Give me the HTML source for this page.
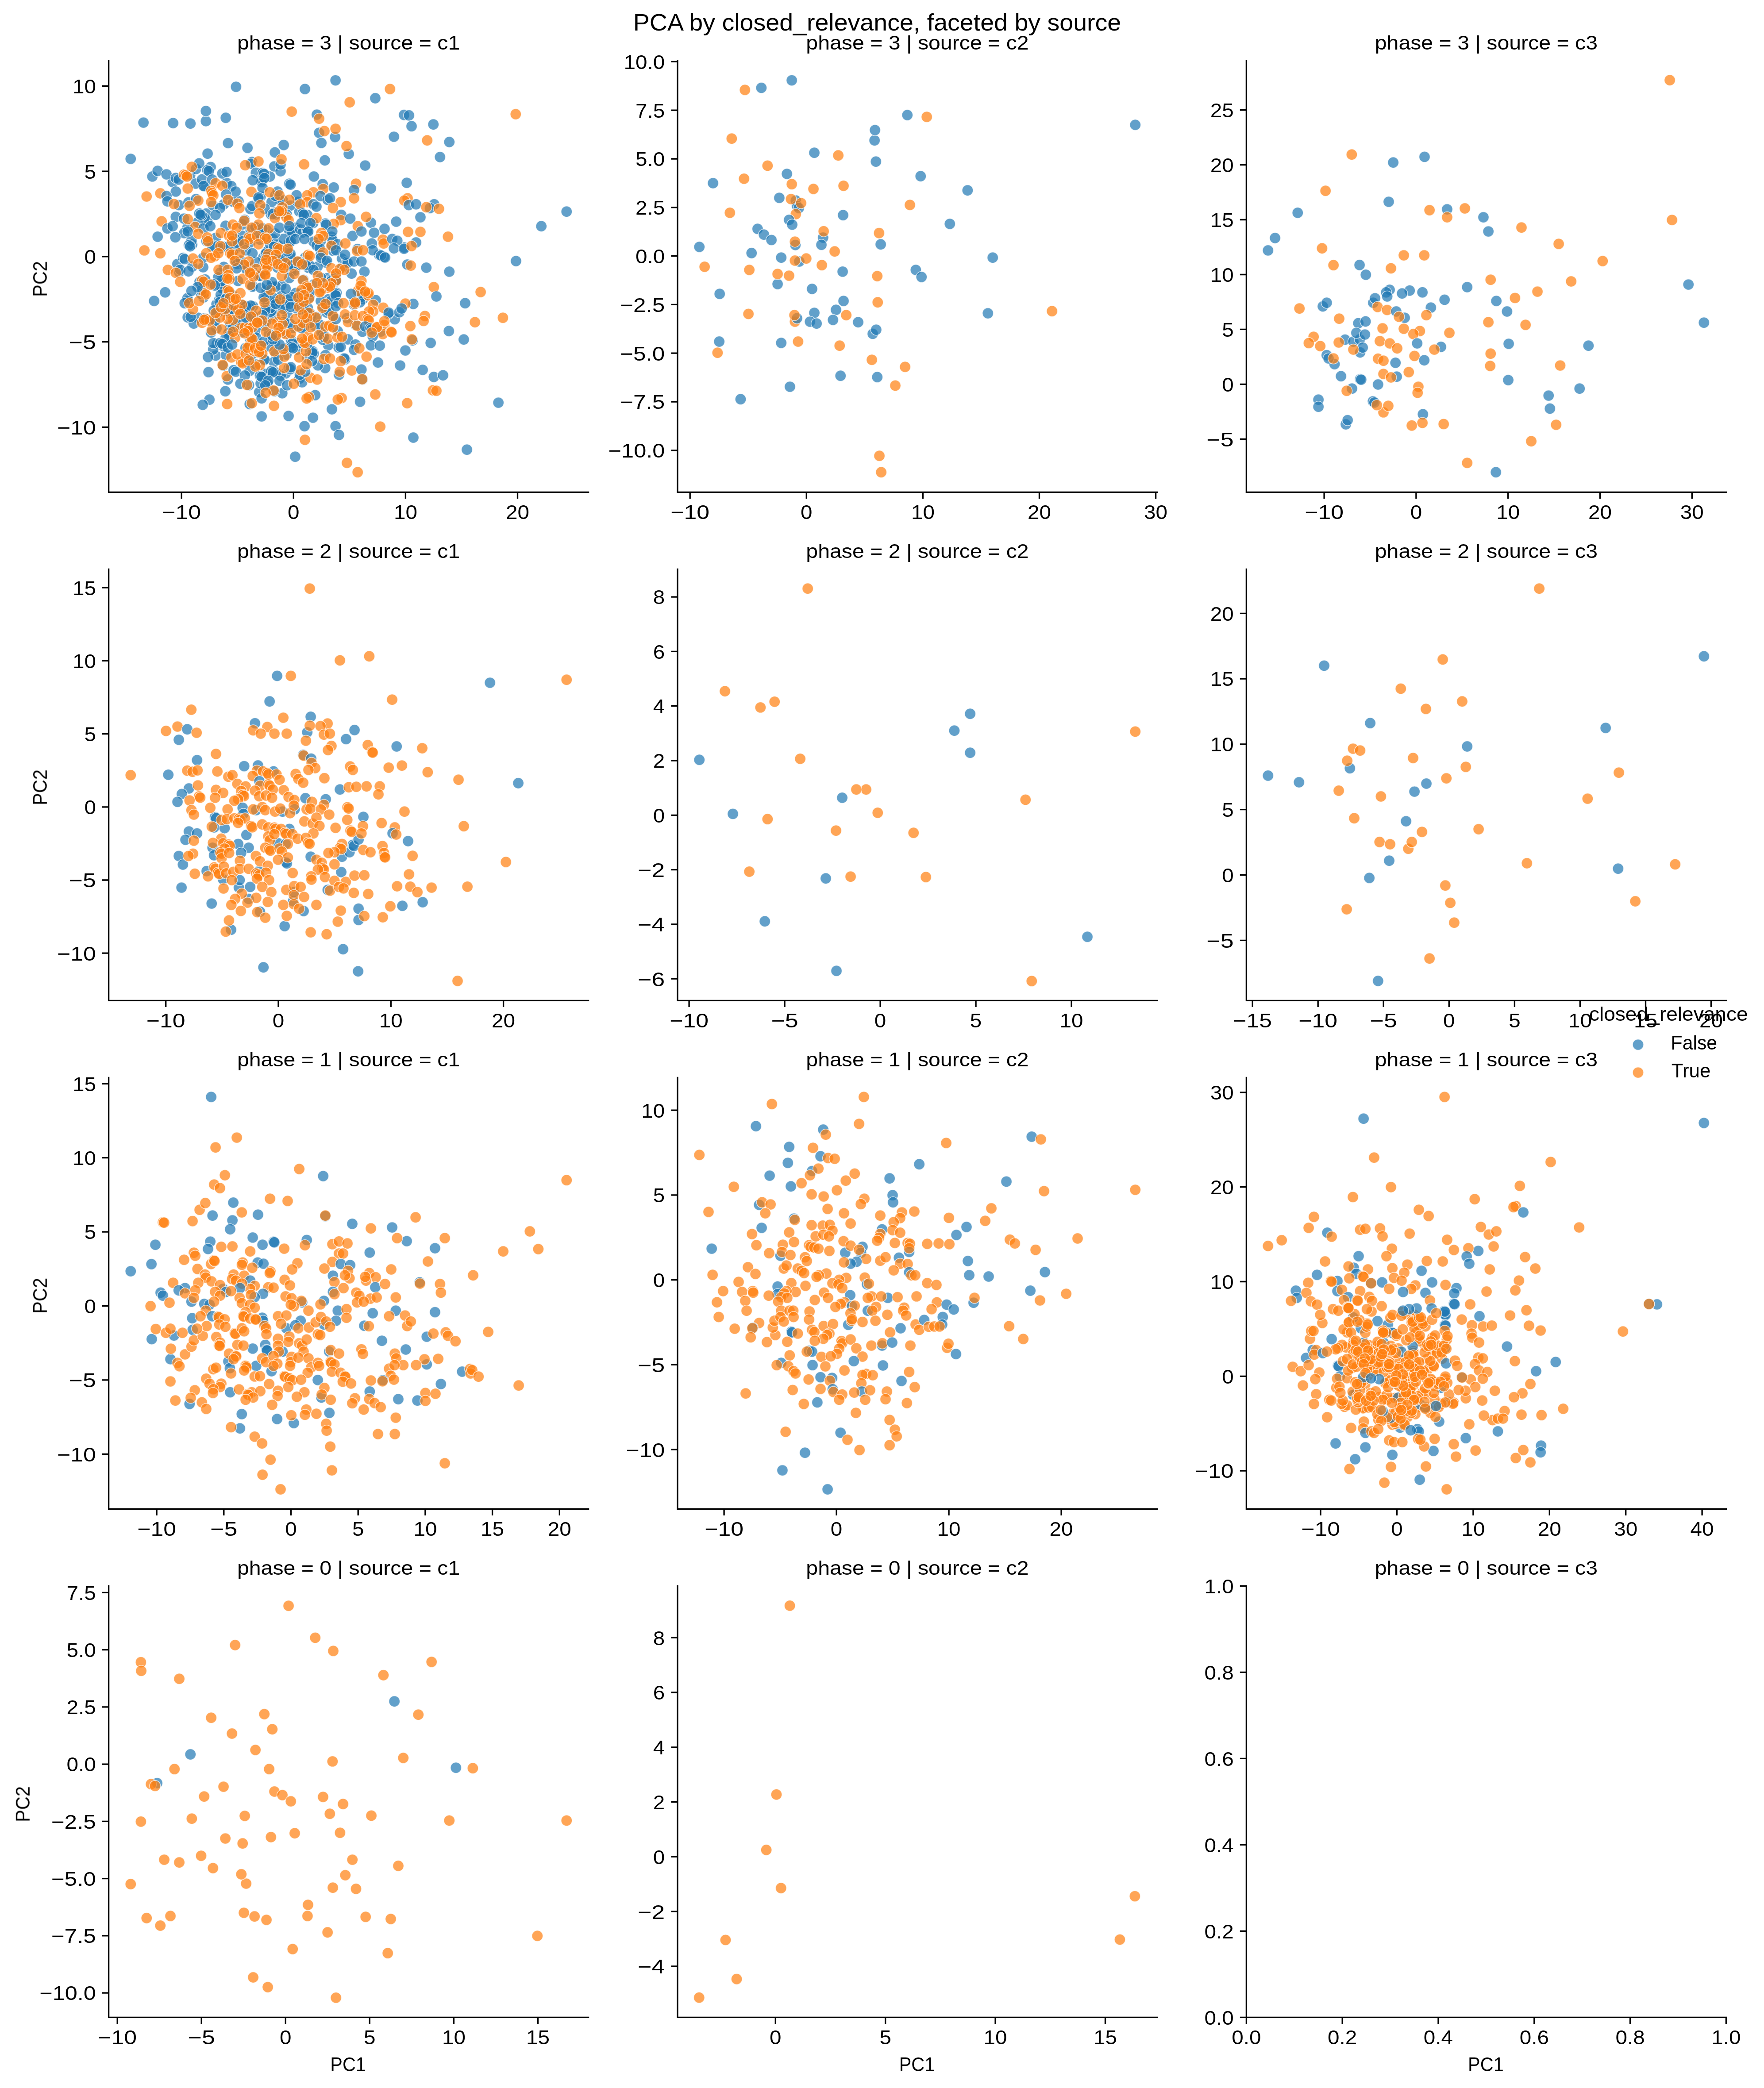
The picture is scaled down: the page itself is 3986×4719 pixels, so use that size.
<!DOCTYPE html>
<html><head><meta charset="utf-8"><title>PCA by closed_relevance, faceted by source</title>
<style>
html,body{margin:0;padding:0;background:#fff}
svg{display:block}
g.tx{filter:grayscale(1)}
text{font-family:"Liberation Sans",sans-serif;fill:#000}
.sp{fill:none;stroke:#000;stroke-width:3.33;stroke-linecap:square;stroke-linejoin:miter}
.tk{fill:none;stroke:#000;stroke-width:3.33}
</style></head><body>
<svg width="3986" height="4719" viewBox="0 0 3986 4719">
<defs>
<circle id="b" r="12.5" fill="#1f77b4" fill-opacity="0.7" stroke="#fff" stroke-opacity="0.7" stroke-width="1.6"/>
<circle id="o" r="12.5" fill="#ff7f0e" fill-opacity="0.7" stroke="#fff" stroke-opacity="0.7" stroke-width="1.6"/>
</defs>
<rect width="3986" height="4719" fill="#fff"/>
<g><use href="#b" x="468.5" y="500.7"/><use href="#b" x="742.1" y="676.4"/><use href="#b" x="772.8" y="584.5"/><use href="#b" x="657.8" y="612.8"/><use href="#b" x="521.4" y="668.9"/><use href="#b" x="459.1" y="603.9"/><use href="#b" x="693.6" y="657.5"/><use href="#b" x="617.0" y="573.7"/><use href="#b" x="629.1" y="582.0"/><use href="#b" x="563.8" y="604.5"/><use href="#b" x="631.1" y="737.6"/><use href="#b" x="434.8" y="602.3"/><use href="#b" x="689.4" y="582.2"/><use href="#b" x="563.5" y="710.0"/><use href="#b" x="558.3" y="817.6"/><use href="#b" x="555.8" y="745.3"/><use href="#b" x="667.3" y="514.7"/><use href="#b" x="554.8" y="786.4"/><use href="#b" x="598.4" y="607.3"/><use href="#b" x="635.5" y="645.6"/><use href="#b" x="609.7" y="399.0"/><use href="#b" x="819.9" y="675.9"/><use href="#b" x="504.8" y="777.3"/><use href="#b" x="676.4" y="856.1"/><use href="#b" x="868.9" y="517.3"/><use href="#b" x="547.2" y="750.9"/><use href="#b" x="405.0" y="615.3"/><use href="#b" x="765.1" y="785.6"/><use href="#b" x="892.1" y="721.6"/><use href="#b" x="702.1" y="714.3"/><use href="#b" x="404.1" y="463.5"/><use href="#b" x="579.4" y="724.2"/><use href="#b" x="670.1" y="684.8"/><use href="#b" x="630.0" y="684.8"/><use href="#b" x="757.7" y="636.6"/><use href="#b" x="536.7" y="703.3"/><use href="#b" x="423.5" y="514.6"/><use href="#b" x="489.2" y="687.4"/><use href="#b" x="860.9" y="749.2"/><use href="#b" x="747.0" y="681.0"/><use href="#b" x="643.5" y="591.6"/><use href="#b" x="465.7" y="482.7"/><use href="#b" x="710.4" y="736.2"/><use href="#b" x="573.4" y="787.2"/><use href="#b" x="740.4" y="628.5"/><use href="#b" x="511.3" y="664.2"/><use href="#b" x="554.4" y="691.6"/><use href="#b" x="773.2" y="604.4"/><use href="#b" x="500.9" y="650.5"/><use href="#b" x="691.1" y="705.1"/><use href="#b" x="638.8" y="452.2"/><use href="#b" x="505.8" y="461.7"/><use href="#b" x="487.5" y="803.6"/><use href="#b" x="583.3" y="797.1"/><use href="#b" x="632.8" y="452.3"/><use href="#b" x="760.6" y="661.9"/><use href="#b" x="609.2" y="844.0"/><use href="#b" x="481.1" y="464.2"/><use href="#b" x="510.5" y="802.6"/><use href="#b" x="592.8" y="406.7"/><use href="#b" x="735.4" y="505.2"/><use href="#b" x="463.6" y="631.8"/><use href="#b" x="736.2" y="593.2"/><use href="#b" x="600.9" y="570.8"/><use href="#b" x="640.0" y="481.7"/><use href="#b" x="546.5" y="532.8"/><use href="#b" x="462.3" y="492.6"/><use href="#b" x="679.8" y="663.3"/><use href="#b" x="447.9" y="718.2"/><use href="#b" x="645.3" y="844.1"/><use href="#b" x="586.1" y="622.1"/><use href="#b" x="525.4" y="666.5"/><use href="#b" x="670.6" y="673.2"/><use href="#b" x="578.8" y="725.0"/><use href="#b" x="621.3" y="682.8"/><use href="#b" x="495.4" y="677.5"/><use href="#b" x="487.7" y="537.8"/><use href="#b" x="732.4" y="650.6"/><use href="#b" x="588.0" y="781.4"/><use href="#b" x="779.8" y="812.3"/><use href="#b" x="569.5" y="612.0"/><use href="#b" x="662.2" y="526.9"/><use href="#b" x="676.3" y="478.0"/><use href="#b" x="564.7" y="702.6"/><use href="#b" x="482.7" y="555.1"/><use href="#b" x="913.5" y="559.4"/><use href="#b" x="523.4" y="573.7"/><use href="#b" x="614.1" y="646.5"/><use href="#b" x="730.7" y="755.3"/><use href="#b" x="560.5" y="602.6"/><use href="#b" x="519.3" y="747.2"/><use href="#b" x="624.8" y="756.7"/><use href="#b" x="725.5" y="628.1"/><use href="#b" x="867.8" y="580.4"/><use href="#b" x="533.3" y="592.9"/><use href="#b" x="749.5" y="631.8"/><use href="#b" x="519.3" y="707.7"/><use href="#b" x="748.9" y="635.1"/><use href="#b" x="579.0" y="794.1"/><use href="#b" x="516.3" y="687.7"/><use href="#b" x="757.5" y="663.3"/><use href="#b" x="627.9" y="554.3"/><use href="#b" x="602.3" y="724.9"/><use href="#b" x="709.7" y="642.4"/><use href="#b" x="504.0" y="557.4"/><use href="#b" x="509.8" y="510.3"/><use href="#b" x="607.5" y="584.9"/><use href="#b" x="616.6" y="540.3"/><use href="#b" x="503.8" y="625.4"/><use href="#b" x="567.2" y="802.9"/><use href="#b" x="499.3" y="677.3"/><use href="#b" x="699.1" y="672.5"/><use href="#b" x="724.9" y="544.3"/><use href="#b" x="817.4" y="670.6"/><use href="#b" x="468.8" y="724.7"/><use href="#b" x="565.9" y="472.4"/><use href="#b" x="520.0" y="735.5"/><use href="#b" x="657.4" y="581.0"/><use href="#b" x="818.9" y="749.7"/><use href="#b" x="566.4" y="519.9"/><use href="#b" x="562.7" y="870.6"/><use href="#b" x="666.4" y="611.6"/><use href="#b" x="459.9" y="672.2"/><use href="#b" x="502.5" y="651.7"/><use href="#b" x="700.8" y="791.9"/><use href="#b" x="627.1" y="604.7"/><use href="#b" x="637.8" y="888.7"/><use href="#b" x="655.9" y="464.7"/><use href="#b" x="799.7" y="683.3"/><use href="#b" x="598.5" y="610.8"/><use href="#b" x="656.2" y="573.4"/><use href="#b" x="429.7" y="395.7"/><use href="#b" x="594.9" y="582.0"/><use href="#b" x="707.1" y="794.3"/><use href="#b" x="549.0" y="689.7"/><use href="#b" x="584.3" y="623.0"/><use href="#b" x="701.1" y="729.8"/><use href="#b" x="434.1" y="552.5"/><use href="#b" x="656.6" y="601.7"/><use href="#b" x="515.2" y="697.0"/><use href="#b" x="497.5" y="561.2"/><use href="#b" x="717.6" y="602.6"/><use href="#b" x="784.2" y="719.0"/><use href="#b" x="708.7" y="799.3"/><use href="#b" x="597.4" y="814.1"/><use href="#b" x="604.7" y="866.6"/><use href="#b" x="621.3" y="774.6"/><use href="#b" x="603.7" y="568.6"/><use href="#b" x="570.0" y="465.4"/><use href="#b" x="763.2" y="748.5"/><use href="#b" x="536.4" y="596.6"/><use href="#b" x="708.3" y="546.1"/><use href="#b" x="514.9" y="857.8"/><use href="#b" x="799.5" y="688.4"/><use href="#b" x="674.7" y="674.6"/><use href="#b" x="783.3" y="591.7"/><use href="#b" x="620.0" y="713.7"/><use href="#b" x="638.3" y="585.6"/><use href="#b" x="530.5" y="564.1"/><use href="#b" x="620.2" y="766.5"/><use href="#b" x="526.1" y="571.1"/><use href="#b" x="561.0" y="696.3"/><use href="#b" x="694.6" y="486.0"/><use href="#b" x="653.0" y="519.5"/><use href="#b" x="696.3" y="523.9"/><use href="#b" x="479.2" y="556.7"/><use href="#b" x="602.6" y="519.8"/><use href="#b" x="635.6" y="669.3"/><use href="#b" x="620.0" y="685.2"/><use href="#b" x="715.5" y="554.6"/><use href="#b" x="517.2" y="556.2"/><use href="#b" x="649.8" y="713.2"/><use href="#b" x="526.4" y="740.9"/><use href="#b" x="660.4" y="599.0"/><use href="#b" x="607.5" y="754.8"/><use href="#b" x="662.1" y="740.8"/><use href="#b" x="622.8" y="798.5"/><use href="#b" x="877.3" y="709.2"/><use href="#b" x="741.6" y="780.4"/><use href="#b" x="564.1" y="838.3"/><use href="#b" x="600.7" y="573.0"/><use href="#b" x="615.9" y="702.1"/><use href="#b" x="541.8" y="734.7"/><use href="#b" x="514.1" y="671.2"/><use href="#b" x="588.9" y="444.4"/><use href="#b" x="656.1" y="732.5"/><use href="#b" x="476.1" y="377.4"/><use href="#b" x="532.5" y="540.5"/><use href="#b" x="623.3" y="647.8"/><use href="#b" x="803.5" y="734.3"/><use href="#b" x="499.4" y="635.7"/><use href="#b" x="648.3" y="677.8"/><use href="#b" x="722.2" y="560.3"/><use href="#b" x="605.8" y="782.9"/><use href="#b" x="671.4" y="790.0"/><use href="#b" x="489.2" y="742.1"/><use href="#b" x="699.9" y="707.0"/><use href="#b" x="726.7" y="752.0"/><use href="#b" x="752.7" y="566.7"/><use href="#b" x="758.6" y="667.7"/><use href="#b" x="454.3" y="664.3"/><use href="#b" x="489.9" y="777.4"/><use href="#b" x="569.6" y="366.1"/><use href="#b" x="563.6" y="782.7"/><use href="#b" x="649.5" y="567.9"/><use href="#b" x="687.5" y="724.7"/><use href="#b" x="786.0" y="767.0"/><use href="#b" x="653.9" y="547.9"/><use href="#b" x="644.0" y="689.2"/><use href="#b" x="611.6" y="704.5"/><use href="#b" x="468.1" y="723.9"/><use href="#b" x="611.2" y="696.3"/><use href="#b" x="598.5" y="611.2"/><use href="#b" x="640.5" y="751.5"/><use href="#b" x="571.7" y="692.2"/><use href="#b" x="518.5" y="704.0"/><use href="#b" x="612.2" y="484.3"/><use href="#b" x="748.9" y="534.9"/><use href="#b" x="619.6" y="480.3"/><use href="#b" x="442.9" y="381.9"/><use href="#b" x="584.3" y="449.9"/><use href="#b" x="585.7" y="886.2"/><use href="#b" x="563.1" y="696.3"/><use href="#b" x="676.9" y="681.9"/><use href="#b" x="595.8" y="844.5"/><use href="#b" x="600.4" y="695.9"/><use href="#b" x="623.3" y="484.7"/><use href="#b" x="687.2" y="739.1"/><use href="#b" x="543.7" y="589.0"/><use href="#b" x="507.3" y="703.3"/><use href="#b" x="600.8" y="668.0"/><use href="#b" x="416.1" y="526.8"/><use href="#b" x="602.2" y="592.4"/><use href="#b" x="537.8" y="634.9"/><use href="#b" x="577.1" y="513.2"/><use href="#b" x="807.8" y="562.9"/><use href="#b" x="687.2" y="726.8"/><use href="#b" x="724.8" y="576.4"/><use href="#b" x="491.4" y="706.4"/><use href="#b" x="563.8" y="615.5"/><use href="#b" x="659.2" y="525.3"/><use href="#b" x="764.1" y="685.0"/><use href="#b" x="544.7" y="706.6"/><use href="#b" x="596.4" y="735.9"/><use href="#b" x="505.8" y="603.3"/><use href="#b" x="610.6" y="553.3"/><use href="#b" x="555.9" y="728.8"/><use href="#b" x="707.7" y="504.0"/><use href="#b" x="555.8" y="692.1"/><use href="#b" x="678.4" y="518.6"/><use href="#b" x="681.1" y="668.6"/><use href="#b" x="674.8" y="599.1"/><use href="#b" x="640.9" y="539.9"/><use href="#b" x="512.1" y="413.4"/><use href="#b" x="455.9" y="487.0"/><use href="#b" x="450.9" y="637.3"/><use href="#b" x="657.5" y="768.4"/><use href="#b" x="598.5" y="677.8"/><use href="#b" x="565.2" y="768.1"/><use href="#b" x="425.0" y="680.3"/><use href="#b" x="400.8" y="596.8"/><use href="#b" x="505.2" y="782.4"/><use href="#b" x="547.5" y="507.3"/><use href="#b" x="599.7" y="701.1"/><use href="#b" x="432.7" y="543.8"/><use href="#b" x="587.3" y="541.5"/><use href="#b" x="696.8" y="605.2"/><use href="#b" x="600.2" y="600.9"/><use href="#b" x="613.8" y="456.5"/><use href="#b" x="856.6" y="575.8"/><use href="#b" x="522.6" y="420.6"/><use href="#b" x="598.2" y="471.8"/><use href="#b" x="647.1" y="801.5"/><use href="#b" x="680.5" y="591.6"/><use href="#b" x="758.5" y="624.2"/><use href="#b" x="602.8" y="656.2"/><use href="#b" x="552.0" y="701.8"/><use href="#b" x="462.9" y="421.4"/><use href="#b" x="749.8" y="554.1"/><use href="#b" x="566.4" y="690.8"/><use href="#b" x="552.8" y="497.0"/><use href="#b" x="584.8" y="527.2"/><use href="#b" x="672.9" y="591.3"/><use href="#b" x="577.6" y="746.4"/><use href="#b" x="425.8" y="457.4"/><use href="#b" x="694.2" y="809.8"/><use href="#b" x="618.9" y="557.8"/><use href="#b" x="753.2" y="714.5"/><use href="#b" x="729.1" y="416.3"/><use href="#b" x="592.9" y="516.3"/><use href="#b" x="478.7" y="722.0"/><use href="#b" x="694.1" y="587.8"/><use href="#b" x="578.6" y="824.0"/><use href="#b" x="685.6" y="632.5"/><use href="#b" x="668.4" y="662.3"/><use href="#b" x="459.2" y="582.3"/><use href="#b" x="641.5" y="727.3"/><use href="#b" x="466.6" y="545.1"/><use href="#b" x="538.9" y="454.6"/><use href="#b" x="738.0" y="706.3"/><use href="#b" x="442.1" y="415.0"/><use href="#b" x="634.3" y="849.1"/><use href="#b" x="683.7" y="525.4"/><use href="#b" x="673.4" y="700.5"/><use href="#b" x="639.3" y="697.8"/><use href="#b" x="705.9" y="796.7"/><use href="#b" x="769.8" y="784.1"/><use href="#b" x="590.9" y="411.6"/><use href="#b" x="672.8" y="456.2"/><use href="#b" x="390.3" y="411.7"/><use href="#b" x="654.5" y="686.6"/><use href="#b" x="685.0" y="684.8"/><use href="#b" x="516.3" y="752.2"/><use href="#b" x="526.3" y="455.8"/><use href="#b" x="715.4" y="716.4"/><use href="#b" x="497.9" y="616.0"/><use href="#b" x="729.6" y="768.0"/><use href="#b" x="481.7" y="790.0"/><use href="#b" x="621.8" y="442.6"/><use href="#b" x="593.0" y="712.1"/><use href="#b" x="498.8" y="666.0"/><use href="#b" x="536.6" y="722.7"/><use href="#b" x="648.1" y="484.9"/><use href="#b" x="579.0" y="763.0"/><use href="#b" x="693.9" y="521.6"/><use href="#b" x="729.2" y="692.3"/><use href="#b" x="623.6" y="842.0"/><use href="#b" x="695.5" y="696.0"/><use href="#b" x="722.6" y="734.0"/><use href="#b" x="759.1" y="634.4"/><use href="#b" x="614.5" y="637.8"/><use href="#b" x="621.3" y="527.6"/><use href="#b" x="700.7" y="660.2"/><use href="#b" x="496.1" y="683.1"/><use href="#b" x="570.6" y="645.5"/><use href="#b" x="483.1" y="701.8"/><use href="#b" x="693.5" y="703.7"/><use href="#b" x="785.6" y="594.4"/><use href="#b" x="570.4" y="647.9"/><use href="#b" x="462.3" y="719.6"/><use href="#b" x="751.2" y="542.3"/><use href="#b" x="588.6" y="623.5"/><use href="#b" x="813.3" y="683.2"/><use href="#b" x="619.9" y="376.1"/><use href="#b" x="734.8" y="831.8"/><use href="#b" x="693.8" y="646.7"/><use href="#b" x="526.0" y="699.0"/><use href="#b" x="513.2" y="670.1"/><use href="#b" x="579.2" y="592.3"/><use href="#b" x="674.5" y="775.7"/><use href="#b" x="617.6" y="673.7"/><use href="#b" x="557.2" y="609.0"/><use href="#b" x="660.6" y="776.2"/><use href="#b" x="589.0" y="866.5"/><use href="#b" x="693.8" y="778.3"/><use href="#b" x="794.4" y="618.3"/><use href="#b" x="537.8" y="551.1"/><use href="#b" x="517.2" y="758.8"/><use href="#b" x="618.9" y="818.3"/><use href="#b" x="597.6" y="812.7"/><use href="#b" x="602.5" y="580.9"/><use href="#b" x="423.6" y="674.0"/><use href="#b" x="815.8" y="661.4"/><use href="#b" x="485.9" y="725.2"/><use href="#b" x="446.4" y="502.4"/><use href="#b" x="742.7" y="702.8"/><use href="#b" x="725.0" y="680.6"/><use href="#b" x="595.9" y="672.3"/><use href="#b" x="571.2" y="785.8"/><use href="#b" x="456.4" y="405.5"/><use href="#b" x="508.7" y="766.2"/><use href="#b" x="586.8" y="724.4"/><use href="#b" x="653.8" y="628.3"/><use href="#b" x="424.2" y="717.2"/><use href="#b" x="492.9" y="626.8"/><use href="#b" x="700.0" y="599.9"/><use href="#b" x="682.2" y="742.2"/><use href="#b" x="455.1" y="656.0"/><use href="#b" x="644.9" y="787.9"/><use href="#b" x="657.9" y="670.5"/><use href="#b" x="758.2" y="181.6"/><use href="#b" x="533.4" y="196.2"/><use href="#b" x="689.1" y="201.3"/><use href="#o" x="790.2" y="231.2"/><use href="#o" x="659.2" y="252.3"/><use href="#b" x="465.3" y="273.7"/><use href="#b" x="465.3" y="251.0"/><use href="#b" x="510.2" y="266.3"/><use href="#b" x="324.2" y="277.1"/><use href="#b" x="391.2" y="278.2"/><use href="#b" x="430.3" y="279.2"/><use href="#b" x="716.0" y="259.1"/><use href="#o" x="721.1" y="268.3"/><use href="#b" x="757.2" y="309.8"/><use href="#o" x="758.2" y="291.1"/><use href="#b" x="721.1" y="300.3"/><use href="#o" x="733.0" y="296.2"/><use href="#b" x="726.2" y="323.1"/><use href="#b" x="515.3" y="323.4"/><use href="#b" x="559.2" y="334.3"/><use href="#b" x="641.2" y="327.8"/><use href="#b" x="621.1" y="344.5"/><use href="#b" x="788.1" y="347.9"/><use href="#o" x="783.0" y="330.2"/><use href="#b" x="469.1" y="347.2"/><use href="#b" x="295.3" y="359.1"/><use href="#b" x="734.0" y="362.5"/><use href="#b" x="634.0" y="387.0"/><use href="#b" x="634.0" y="371.7"/><use href="#o" x="636.1" y="360.1"/><use href="#b" x="567.0" y="370.0"/><use href="#o" x="584.0" y="364.9"/><use href="#o" x="554.1" y="373.4"/><use href="#o" x="687.1" y="371.4"/><use href="#b" x="450.0" y="369.3"/><use href="#o" x="433.4" y="377.1"/><use href="#b" x="344.3" y="398.9"/><use href="#b" x="356.2" y="386.3"/><use href="#b" x="376.2" y="394.1"/><use href="#b" x="468.4" y="384.6"/><use href="#b" x="471.8" y="386.7"/><use href="#b" x="502.4" y="392.1"/><use href="#b" x="511.9" y="388.7"/><use href="#b" x="578.3" y="390.4"/><use href="#b" x="593.2" y="391.1"/><use href="#b" x="596.6" y="393.1"/><use href="#b" x="597.3" y="402.3"/><use href="#b" x="709.2" y="398.9"/><use href="#b" x="397.3" y="402.3"/><use href="#b" x="403.8" y="405.7"/><use href="#o" x="415.7" y="394.8"/><use href="#o" x="419.1" y="396.2"/><use href="#o" x="422.5" y="398.9"/><use href="#b" x="571.1" y="407.4"/><use href="#b" x="479.3" y="405.7"/><use href="#o" x="487.1" y="414.2"/><use href="#o" x="502.4" y="420.0"/><use href="#b" x="653.8" y="415.2"/><use href="#b" x="656.5" y="417.3"/><use href="#o" x="804.5" y="415.2"/><use href="#b" x="459.9" y="420.3"/><use href="#o" x="424.2" y="426.1"/><use href="#b" x="754.1" y="423.7"/><use href="#o" x="730.3" y="427.1"/><use href="#b" x="593.2" y="424.4"/><use href="#o" x="708.2" y="434.6"/><use href="#b" x="532.3" y="432.9"/><use href="#o" x="477.2" y="431.2"/><use href="#o" x="479.3" y="436.3"/><use href="#o" x="482.0" y="441.4"/><use href="#o" x="568.1" y="433.6"/><use href="#b" x="627.2" y="432.9"/><use href="#o" x="609.6" y="434.6"/><use href="#o" x="631.3" y="441.4"/><use href="#b" x="397.3" y="432.9"/><use href="#o" x="362.3" y="437.0"/><use href="#b" x="376.2" y="443.1"/><use href="#o" x="331.3" y="444.1"/><use href="#o" x="694.3" y="441.4"/><use href="#o" x="694.3" y="456.7"/><use href="#b" x="800.0" y="429.5"/><use href="#o" x="800.0" y="448.2"/><use href="#b" x="670.1" y="441.4"/><use href="#o" x="653.8" y="451.6"/><use href="#b" x="510.9" y="439.7"/><use href="#o" x="515.3" y="451.6"/><use href="#b" x="442.9" y="449.9"/><use href="#o" x="448.0" y="453.3"/><use href="#b" x="584.0" y="446.5"/><use href="#b" x="724.2" y="443.1"/><use href="#b" x="740.2" y="451.6"/><use href="#b" x="745.6" y="448.2"/><use href="#o" x="770.1" y="456.7"/><use href="#o" x="477.2" y="456.7"/><use href="#b" x="378.3" y="455.0"/><use href="#o" x="393.2" y="461.2"/><use href="#o" x="428.3" y="465.2"/><use href="#o" x="588.1" y="463.5"/><use href="#o" x="536.4" y="460.1"/><use href="#o" x="540.9" y="470.3"/><use href="#o" x="638.1" y="468.6"/><use href="#o" x="678.3" y="461.8"/><use href="#b" x="708.2" y="461.8"/><use href="#b" x="715.0" y="466.9"/><use href="#o" x="752.4" y="470.3"/><use href="#b" x="497.3" y="470.3"/><use href="#b" x="487.1" y="485.6"/><use href="#b" x="616.4" y="483.9"/><use href="#o" x="586.1" y="482.2"/><use href="#b" x="450.4" y="482.6"/><use href="#b" x="453.1" y="485.3"/><use href="#b" x="397.3" y="490.1"/><use href="#b" x="415.7" y="494.1"/><use href="#o" x="424.2" y="495.2"/><use href="#o" x="621.1" y="493.1"/><use href="#b" x="683.7" y="482.6"/><use href="#b" x="686.4" y="485.3"/><use href="#o" x="715.0" y="493.1"/><use href="#b" x="771.1" y="485.6"/><use href="#o" x="770.1" y="497.6"/><use href="#b" x="791.5" y="494.1"/><use href="#o" x="647.0" y="490.7"/><use href="#o" x="652.1" y="497.6"/><use href="#o" x="365.3" y="500.3"/><use href="#o" x="551.7" y="499.3"/><use href="#o" x="526.2" y="507.8"/><use href="#o" x="534.7" y="514.6"/><use href="#o" x="584.0" y="507.8"/><use href="#o" x="568.7" y="514.6"/><use href="#o" x="607.2" y="516.3"/><use href="#o" x="754.1" y="506.1"/><use href="#b" x="631.3" y="514.6"/><use href="#b" x="653.8" y="511.2"/><use href="#b" x="681.0" y="504.4"/><use href="#b" x="701.4" y="504.4"/><use href="#b" x="737.1" y="507.8"/><use href="#b" x="378.3" y="516.3"/><use href="#b" x="390.2" y="511.2"/><use href="#o" x="441.2" y="512.9"/><use href="#b" x="459.9" y="516.3"/><use href="#b" x="475.2" y="511.2"/><use href="#b" x="424.2" y="523.1"/><use href="#b" x="696.3" y="523.1"/><use href="#b" x="750.7" y="523.1"/><use href="#o" x="726.2" y="526.5"/><use href="#o" x="730.3" y="533.3"/><use href="#o" x="720.1" y="540.1"/><use href="#o" x="448.0" y="528.2"/><use href="#o" x="468.4" y="536.7"/><use href="#o" x="470.1" y="545.2"/><use href="#o" x="499.0" y="526.5"/><use href="#o" x="517.7" y="533.3"/><use href="#o" x="524.5" y="545.2"/><use href="#b" x="356.2" y="535.0"/><use href="#b" x="396.3" y="536.3"/><use href="#b" x="548.3" y="545.2"/><use href="#b" x="565.3" y="548.6"/><use href="#o" x="561.9" y="537.0"/><use href="#o" x="565.3" y="539.7"/><use href="#o" x="580.6" y="533.3"/><use href="#o" x="598.7" y="537.0"/><use href="#o" x="602.1" y="539.7"/><use href="#b" x="657.2" y="545.2"/><use href="#b" x="667.4" y="540.1"/><use href="#b" x="687.8" y="540.1"/><use href="#b" x="796.6" y="533.3"/><use href="#o" x="808.5" y="511.2"/><use href="#b" x="426.9" y="554.0"/><use href="#b" x="429.6" y="556.7"/><use href="#b" x="762.6" y="552.0"/><use href="#o" x="749.0" y="555.4"/><use href="#o" x="780.3" y="550.3"/><use href="#o" x="806.8" y="567.3"/><use href="#o" x="627.6" y="560.8"/><use href="#o" x="631.0" y="563.5"/><use href="#o" x="650.4" y="562.2"/><use href="#o" x="584.0" y="552.0"/><use href="#o" x="326.2" y="565.9"/><use href="#o" x="362.3" y="572.4"/><use href="#b" x="555.1" y="565.6"/><use href="#b" x="570.4" y="572.4"/><use href="#o" x="466.0" y="572.4"/><use href="#o" x="485.4" y="579.2"/><use href="#o" x="476.9" y="582.6"/><use href="#o" x="520.4" y="572.7"/><use href="#o" x="523.8" y="575.4"/><use href="#o" x="541.5" y="572.4"/><use href="#o" x="606.2" y="574.1"/><use href="#o" x="623.2" y="575.8"/><use href="#o" x="696.3" y="576.1"/><use href="#o" x="699.7" y="578.8"/><use href="#o" x="730.3" y="570.7"/><use href="#b" x="414.0" y="582.9"/><use href="#b" x="417.4" y="585.6"/><use href="#o" x="436.1" y="584.3"/><use href="#o" x="448.0" y="596.2"/><use href="#b" x="759.2" y="565.6"/><use href="#b" x="779.6" y="575.8"/><use href="#b" x="800.0" y="591.1"/><use href="#b" x="725.2" y="582.6"/><use href="#b" x="738.8" y="589.4"/><use href="#b" x="691.2" y="599.6"/><use href="#b" x="708.2" y="609.8"/><use href="#o" x="561.9" y="591.1"/><use href="#o" x="551.7" y="597.9"/><use href="#o" x="672.5" y="591.1"/><use href="#o" x="645.3" y="594.5"/><use href="#o" x="635.1" y="603.0"/><use href="#o" x="599.4" y="594.5"/><use href="#o" x="601.1" y="601.6"/><use href="#o" x="604.5" y="604.4"/><use href="#o" x="578.9" y="608.1"/><use href="#b" x="534.7" y="606.4"/><use href="#o" x="493.9" y="609.8"/><use href="#o" x="514.3" y="609.8"/><use href="#o" x="749.0" y="606.4"/><use href="#o" x="767.7" y="608.1"/><use href="#o" x="777.9" y="609.8"/><use href="#b" x="407.2" y="609.8"/><use href="#b" x="425.9" y="613.2"/><use href="#o" x="379.3" y="610.1"/><use href="#o" x="397.3" y="616.6"/><use href="#o" x="665.0" y="619.0"/><use href="#o" x="636.8" y="623.4"/><use href="#o" x="599.4" y="623.4"/><use href="#o" x="516.0" y="621.7"/><use href="#o" x="548.3" y="630.2"/><use href="#o" x="718.4" y="623.4"/><use href="#o" x="407.2" y="637.0"/><use href="#o" x="456.5" y="633.9"/><use href="#o" x="459.9" y="636.7"/><use href="#o" x="565.3" y="643.8"/><use href="#o" x="759.2" y="633.6"/><use href="#o" x="749.0" y="640.4"/><use href="#o" x="740.5" y="650.6"/><use href="#o" x="725.2" y="657.4"/><use href="#o" x="684.4" y="633.6"/><use href="#o" x="692.9" y="647.6"/><use href="#o" x="696.3" y="650.3"/><use href="#o" x="681.0" y="655.7"/><use href="#o" x="611.3" y="655.7"/><use href="#o" x="514.3" y="656.1"/><use href="#o" x="517.7" y="658.8"/><use href="#o" x="543.2" y="662.5"/><use href="#o" x="461.6" y="662.9"/><use href="#o" x="465.0" y="665.6"/><use href="#o" x="808.5" y="657.4"/><use href="#b" x="373.2" y="660.8"/><use href="#b" x="446.3" y="648.9"/><use href="#b" x="482.0" y="642.4"/><use href="#b" x="485.4" y="645.2"/><use href="#b" x="645.3" y="652.3"/><use href="#b" x="589.1" y="650.6"/><use href="#b" x="602.8" y="643.8"/><use href="#b" x="793.2" y="664.2"/><use href="#b" x="432.7" y="657.4"/><use href="#o" x="881.3" y="201.3"/><use href="#b" x="848.0" y="222.0"/><use href="#b" x="913.0" y="259.8"/><use href="#b" x="924.2" y="260.8"/><use href="#o" x="1165.3" y="258.1"/><use href="#b" x="930.0" y="285.3"/><use href="#b" x="979.3" y="281.2"/><use href="#b" x="890.2" y="309.1"/><use href="#o" x="965.3" y="317.3"/><use href="#b" x="1015.3" y="321.0"/><use href="#b" x="994.3" y="355.0"/><use href="#b" x="825.2" y="374.1"/><use href="#b" x="919.1" y="413.2"/><use href="#b" x="838.1" y="426.1"/><use href="#o" x="921.1" y="448.2"/><use href="#o" x="913.6" y="453.3"/><use href="#b" x="923.8" y="463.5"/><use href="#b" x="940.2" y="461.8"/><use href="#b" x="981.0" y="461.8"/><use href="#b" x="971.5" y="470.3"/><use href="#o" x="963.3" y="468.3"/><use href="#o" x="991.9" y="472.0"/><use href="#b" x="838.1" y="503.3"/><use href="#o" x="827.2" y="490.1"/><use href="#b" x="950.0" y="491.1"/><use href="#b" x="895.3" y="501.0"/><use href="#b" x="1280.3" y="478.2"/><use href="#b" x="1223.2" y="511.2"/><use href="#b" x="816.7" y="523.1"/><use href="#b" x="845.3" y="526.1"/><use href="#o" x="922.1" y="524.1"/><use href="#o" x="950.0" y="524.1"/><use href="#o" x="1012.3" y="535.0"/><use href="#o" x="865.0" y="541.8"/><use href="#o" x="867.0" y="550.3"/><use href="#b" x="886.4" y="540.1"/><use href="#b" x="897.7" y="544.1"/><use href="#b" x="840.2" y="550.3"/><use href="#b" x="842.2" y="565.6"/><use href="#b" x="940.2" y="547.9"/><use href="#b" x="890.2" y="561.2"/><use href="#b" x="913.0" y="562.2"/><use href="#o" x="930.0" y="556.1"/><use href="#o" x="820.1" y="565.6"/><use href="#b" x="860.9" y="577.5"/><use href="#b" x="870.1" y="581.9"/><use href="#b" x="816.7" y="591.1"/><use href="#b" x="823.5" y="613.9"/><use href="#b" x="920.4" y="597.9"/><use href="#o" x="928.3" y="600.3"/><use href="#b" x="963.3" y="605.0"/><use href="#b" x="1015.3" y="613.9"/><use href="#b" x="1166.0" y="590.1"/><use href="#o" x="816.7" y="635.3"/><use href="#o" x="815.0" y="645.5"/><use href="#o" x="980.3" y="648.9"/><use href="#o" x="1086.1" y="660.1"/><use href="#b" x="986.1" y="670.0"/><use href="#o" x="832.0" y="667.6"/><use href="#b" x="348.3" y="680.2"/><use href="#b" x="470.1" y="807.1"/><use href="#b" x="471.1" y="841.1"/><use href="#b" x="509.2" y="884.3"/><use href="#b" x="473.2" y="903.3"/><use href="#b" x="458.2" y="914.9"/><use href="#o" x="513.3" y="913.2"/><use href="#b" x="564.3" y="913.2"/><use href="#o" x="569.1" y="911.2"/><use href="#o" x="619.1" y="917.3"/><use href="#b" x="591.2" y="900.3"/><use href="#b" x="591.2" y="941.1"/><use href="#b" x="652.1" y="940.1"/><use href="#b" x="707.2" y="944.1"/><use href="#b" x="688.1" y="963.2"/><use href="#b" x="750.0" y="925.1"/><use href="#b" x="758.2" y="963.2"/><use href="#b" x="766.0" y="982.9"/><use href="#o" x="689.1" y="994.1"/><use href="#b" x="667.0" y="1032.2"/><use href="#o" x="784.0" y="1046.2"/><use href="#o" x="808.2" y="1067.3"/><use href="#b" x="813.6" y="908.1"/><use href="#b" x="712.3" y="893.1"/><use href="#o" x="698.0" y="897.2"/><use href="#o" x="692.9" y="900.6"/><use href="#o" x="772.1" y="899.6"/><use href="#o" x="763.3" y="903.0"/><use href="#b" x="504.1" y="826.5"/><use href="#o" x="503.1" y="824.8"/><use href="#o" x="512.3" y="850.3"/><use href="#b" x="527.9" y="836.7"/><use href="#b" x="533.0" y="840.1"/><use href="#b" x="553.4" y="848.6"/><use href="#b" x="543.2" y="867.3"/><use href="#o" x="558.2" y="870.0"/><use href="#b" x="587.4" y="848.9"/><use href="#b" x="590.9" y="851.6"/><use href="#b" x="613.0" y="838.7"/><use href="#b" x="616.4" y="841.4"/><use href="#b" x="631.7" y="860.5"/><use href="#b" x="606.2" y="860.5"/><use href="#b" x="599.4" y="870.7"/><use href="#b" x="648.7" y="870.7"/><use href="#b" x="682.7" y="863.9"/><use href="#o" x="664.0" y="867.3"/><use href="#b" x="619.8" y="884.3"/><use href="#o" x="618.1" y="882.6"/><use href="#o" x="600.4" y="887.7"/><use href="#o" x="701.4" y="853.7"/><use href="#o" x="716.7" y="857.8"/><use href="#b" x="718.4" y="825.8"/><use href="#b" x="766.0" y="846.9"/><use href="#o" x="767.7" y="840.1"/><use href="#o" x="794.9" y="837.3"/><use href="#b" x="677.6" y="846.9"/><use href="#b" x="689.5" y="840.1"/><use href="#b" x="704.8" y="816.3"/><use href="#o" x="679.3" y="836.7"/><use href="#o" x="692.9" y="823.1"/><use href="#b" x="652.4" y="831.9"/><use href="#b" x="655.8" y="834.6"/><use href="#b" x="657.2" y="829.9"/><use href="#o" x="641.9" y="831.6"/><use href="#b" x="735.4" y="802.7"/><use href="#o" x="732.0" y="811.2"/><use href="#o" x="745.6" y="810.1"/><use href="#b" x="777.9" y="810.1"/><use href="#o" x="770.1" y="816.3"/><use href="#b" x="628.3" y="812.9"/><use href="#o" x="642.9" y="806.1"/><use href="#o" x="675.9" y="807.8"/><use href="#o" x="691.2" y="794.1"/><use href="#b" x="803.4" y="778.8"/><use href="#b" x="800.0" y="790.7"/><use href="#o" x="811.9" y="787.3"/><use href="#o" x="587.4" y="824.8"/><use href="#o" x="577.2" y="828.2"/><use href="#o" x="544.9" y="818.3"/><use href="#o" x="548.3" y="821.0"/><use href="#o" x="522.8" y="807.8"/><use href="#o" x="536.4" y="801.0"/><use href="#o" x="555.1" y="799.3"/><use href="#b" x="659.2" y="784.3"/><use href="#b" x="661.9" y="787.0"/><use href="#o" x="570.4" y="791.1"/><use href="#o" x="573.8" y="793.8"/><use href="#o" x="575.5" y="789.0"/><use href="#o" x="589.1" y="789.0"/><use href="#o" x="592.6" y="799.3"/><use href="#o" x="619.8" y="794.1"/><use href="#o" x="640.2" y="789.0"/><use href="#o" x="563.6" y="780.5"/><use href="#o" x="567.4" y="763.9"/><use href="#o" x="570.1" y="766.6"/><use href="#o" x="531.3" y="763.5"/><use href="#b" x="482.0" y="775.4"/><use href="#b" x="497.3" y="775.4"/><use href="#b" x="502.4" y="777.1"/><use href="#b" x="514.3" y="785.6"/><use href="#b" x="524.5" y="778.8"/><use href="#b" x="596.0" y="772.0"/><use href="#b" x="631.7" y="778.8"/><use href="#b" x="616.4" y="766.9"/><use href="#o" x="686.4" y="772.4"/><use href="#o" x="689.1" y="775.1"/><use href="#o" x="696.3" y="760.1"/><use href="#o" x="706.5" y="766.9"/><use href="#o" x="682.7" y="765.2"/><use href="#b" x="732.0" y="761.8"/><use href="#o" x="740.5" y="765.2"/><use href="#o" x="762.6" y="762.5"/><use href="#o" x="772.8" y="761.2"/><use href="#o" x="645.3" y="755.0"/><use href="#o" x="657.2" y="753.3"/><use href="#o" x="633.4" y="749.9"/><use href="#b" x="614.7" y="758.4"/><use href="#o" x="601.1" y="749.9"/><use href="#b" x="476.9" y="751.6"/><use href="#o" x="478.6" y="746.5"/><use href="#o" x="500.7" y="744.8"/><use href="#b" x="437.8" y="731.2"/><use href="#b" x="431.0" y="715.9"/><use href="#o" x="456.5" y="729.5"/><use href="#o" x="544.9" y="741.4"/><use href="#o" x="553.4" y="739.7"/><use href="#o" x="561.9" y="740.7"/><use href="#o" x="570.4" y="739.7"/><use href="#o" x="674.2" y="738.0"/><use href="#o" x="684.4" y="729.5"/><use href="#o" x="735.4" y="738.0"/><use href="#o" x="743.9" y="736.3"/><use href="#o" x="752.4" y="739.7"/><use href="#o" x="786.4" y="727.8"/><use href="#o" x="806.8" y="736.3"/><use href="#o" x="626.6" y="727.8"/><use href="#o" x="638.5" y="732.9"/><use href="#o" x="614.7" y="731.2"/><use href="#o" x="592.6" y="724.4"/><use href="#o" x="526.2" y="722.7"/><use href="#o" x="514.3" y="721.0"/><use href="#o" x="465.0" y="721.0"/><use href="#o" x="473.5" y="724.4"/><use href="#o" x="497.3" y="717.6"/><use href="#o" x="487.1" y="707.4"/><use href="#o" x="667.4" y="721.0"/><use href="#o" x="698.0" y="707.4"/><use href="#o" x="713.3" y="717.6"/><use href="#b" x="759.2" y="721.0"/><use href="#o" x="752.4" y="714.2"/><use href="#o" x="779.6" y="710.8"/><use href="#o" x="801.7" y="712.5"/><use href="#o" x="636.8" y="712.5"/><use href="#b" x="555.1" y="717.6"/><use href="#b" x="572.1" y="714.2"/><use href="#o" x="578.9" y="702.3"/><use href="#o" x="538.1" y="700.6"/><use href="#o" x="509.2" y="698.9"/><use href="#o" x="436.1" y="698.9"/><use href="#b" x="417.4" y="685.3"/><use href="#o" x="427.6" y="685.3"/><use href="#b" x="657.2" y="693.8"/><use href="#o" x="675.9" y="693.8"/><use href="#o" x="728.6" y="695.5"/><use href="#o" x="735.4" y="687.0"/><use href="#b" x="759.2" y="692.1"/><use href="#o" x="776.2" y="685.3"/><use href="#o" x="801.7" y="687.0"/><use href="#b" x="623.2" y="687.0"/><use href="#o" x="597.7" y="683.6"/><use href="#o" x="633.4" y="676.8"/><use href="#o" x="546.6" y="688.7"/><use href="#o" x="527.9" y="690.4"/><use href="#o" x="698.0" y="675.1"/><use href="#o" x="686.1" y="681.9"/><use href="#o" x="449.7" y="680.2"/><use href="#b" x="510.9" y="675.1"/><use href="#b" x="1051.1" y="685.3"/><use href="#b" x="934.0" y="687.0"/><use href="#o" x="916.0" y="686.3"/><use href="#b" x="849.0" y="678.5"/><use href="#o" x="843.2" y="688.7"/><use href="#o" x="866.0" y="695.5"/><use href="#b" x="878.3" y="706.7"/><use href="#b" x="902.4" y="705.7"/><use href="#b" x="907.5" y="697.2"/><use href="#o" x="843.2" y="704.0"/><use href="#o" x="833.7" y="704.0"/><use href="#o" x="960.2" y="714.2"/><use href="#o" x="957.2" y="725.4"/><use href="#o" x="1136.4" y="718.3"/><use href="#o" x="1073.2" y="728.2"/><use href="#o" x="820.1" y="714.2"/><use href="#o" x="830.6" y="721.4"/><use href="#o" x="833.4" y="724.1"/><use href="#o" x="927.2" y="737.0"/><use href="#b" x="825.2" y="738.0"/><use href="#b" x="836.8" y="741.8"/><use href="#b" x="839.5" y="744.5"/><use href="#o" x="868.4" y="734.6"/><use href="#o" x="865.0" y="755.0"/><use href="#o" x="851.4" y="739.0"/><use href="#o" x="852.1" y="739.7"/><use href="#o" x="883.4" y="749.6"/><use href="#o" x="884.7" y="751.0"/><use href="#b" x="1014.3" y="748.2"/><use href="#b" x="1048.0" y="767.3"/><use href="#b" x="932.3" y="769.3"/><use href="#o" x="930.6" y="766.9"/><use href="#b" x="973.2" y="775.1"/><use href="#b" x="842.2" y="760.1"/><use href="#b" x="838.1" y="780.5"/><use href="#b" x="858.2" y="781.2"/><use href="#b" x="916.0" y="792.1"/><use href="#o" x="828.3" y="806.1"/><use href="#b" x="854.1" y="819.3"/><use href="#b" x="904.1" y="826.1"/><use href="#b" x="816.7" y="835.3"/><use href="#b" x="955.1" y="836.0"/><use href="#b" x="980.3" y="852.0"/><use href="#b" x="1001.1" y="848.2"/><use href="#b" x="819.1" y="857.8"/><use href="#o" x="818.4" y="857.1"/><use href="#o" x="848.0" y="891.4"/><use href="#o" x="978.3" y="882.2"/><use href="#o" x="986.1" y="883.3"/><use href="#o" x="920.1" y="911.2"/><use href="#b" x="1126.2" y="910.1"/><use href="#o" x="859.2" y="964.2"/><use href="#b" x="934.0" y="989.0"/><use href="#b" x="1055.1" y="1016.3"/><use href="#o" x="528.8" y="677.4"/><use href="#o" x="686.6" y="666.9"/><use href="#o" x="616.4" y="589.6"/><use href="#o" x="627.6" y="597.3"/><use href="#o" x="567.6" y="618.0"/><use href="#o" x="832.8" y="662.7"/><use href="#o" x="629.3" y="740.9"/><use href="#o" x="682.8" y="597.4"/><use href="#o" x="567.4" y="715.4"/><use href="#o" x="562.6" y="814.7"/><use href="#o" x="560.3" y="748.0"/><use href="#o" x="559.4" y="785.9"/><use href="#o" x="599.4" y="620.5"/><use href="#o" x="802.4" y="683.9"/><use href="#o" x="552.5" y="753.2"/><use href="#o" x="868.6" y="726.1"/><use href="#o" x="694.4" y="719.4"/><use href="#o" x="518.6" y="630.9"/><use href="#o" x="582.0" y="728.5"/><use href="#o" x="745.4" y="647.6"/><use href="#o" x="542.8" y="709.2"/><use href="#o" x="499.3" y="694.5"/><use href="#o" x="840.0" y="751.6"/><use href="#o" x="640.7" y="606.1"/><use href="#o" x="702.1" y="739.6"/><use href="#o" x="576.4" y="786.7"/><use href="#o" x="825.1" y="659.0"/><use href="#o" x="729.6" y="640.2"/><use href="#o" x="519.6" y="673.1"/><use href="#o" x="759.6" y="617.9"/><use href="#o" x="684.3" y="710.8"/><use href="#o" x="636.4" y="477.4"/><use href="#o" x="585.6" y="795.8"/><use href="#o" x="630.9" y="477.5"/><use href="#o" x="524.5" y="532.2"/><use href="#o" x="475.8" y="643.2"/><use href="#o" x="601.7" y="586.9"/><use href="#o" x="551.8" y="551.8"/><use href="#o" x="674.0" y="672.2"/><use href="#o" x="461.4" y="722.9"/><use href="#o" x="532.5" y="675.3"/><use href="#o" x="581.4" y="729.3"/><use href="#o" x="504.9" y="685.4"/><use href="#o" x="497.9" y="556.4"/><use href="#o" x="722.2" y="660.5"/><use href="#o" x="589.9" y="781.3"/><use href="#o" x="572.9" y="624.9"/><use href="#o" x="513.9" y="629.4"/><use href="#o" x="493.3" y="572.4"/><use href="#o" x="530.6" y="589.6"/><use href="#o" x="720.7" y="757.2"/><use href="#o" x="564.6" y="616.2"/><use href="#o" x="526.9" y="749.7"/><use href="#o" x="623.5" y="758.5"/><use href="#o" x="715.9" y="639.8"/></g>
<path d="M245.6 137.3V1112.3H1329.6" class="sp"/>
<path d="M410.2 1112.3v14.58M663.3 1112.3v14.58M916.4 1112.3v14.58M1169.5 1112.3v14.58M245.6 194.5h-14.58M245.6 387.2h-14.58M245.6 579.9h-14.58M245.6 772.6h-14.58M245.6 965.3h-14.58" class="tk"/>
<g><use href="#b" x="1789.1" y="181.6"/><use href="#b" x="1720.4" y="198.6"/><use href="#o" x="1683.3" y="203.3"/><use href="#b" x="2050.3" y="260.1"/><use href="#o" x="2094.2" y="264.2"/><use href="#b" x="1976.2" y="317.3"/><use href="#b" x="1977.2" y="294.1"/><use href="#o" x="1653.4" y="313.2"/><use href="#b" x="1840.1" y="345.2"/><use href="#o" x="1894.2" y="351.3"/><use href="#b" x="1979.3" y="365.2"/><use href="#o" x="1734.4" y="374.4"/><use href="#b" x="1778.2" y="393.1"/><use href="#b" x="2080.3" y="398.2"/><use href="#o" x="1681.3" y="404.0"/><use href="#b" x="1611.2" y="413.9"/><use href="#o" x="1789.1" y="416.3"/><use href="#o" x="1906.1" y="420.0"/><use href="#o" x="1838.1" y="427.1"/><use href="#b" x="1760.9" y="447.2"/><use href="#b" x="1798.3" y="453.3"/><use href="#b" x="1801.0" y="465.2"/><use href="#b" x="1805.1" y="470.3"/><use href="#o" x="1787.4" y="449.9"/><use href="#o" x="1810.2" y="459.1"/><use href="#o" x="2056.1" y="463.2"/><use href="#o" x="1798.3" y="483.9"/><use href="#o" x="1649.3" y="480.9"/><use href="#b" x="1905.1" y="486.3"/><use href="#b" x="1783.0" y="496.9"/><use href="#b" x="1790.1" y="507.8"/><use href="#b" x="1711.9" y="517.3"/><use href="#b" x="1726.2" y="530.2"/><use href="#b" x="1743.2" y="542.4"/><use href="#b" x="1859.9" y="537.0"/><use href="#o" x="1861.2" y="522.7"/><use href="#b" x="1856.1" y="553.3"/><use href="#o" x="1986.4" y="526.8"/><use href="#b" x="1797.3" y="553.7"/><use href="#o" x="1796.3" y="546.2"/><use href="#b" x="1990.1" y="552.3"/><use href="#b" x="1580.3" y="558.1"/><use href="#o" x="1886.1" y="568.3"/><use href="#b" x="1698.3" y="572.0"/><use href="#b" x="1765.3" y="582.2"/><use href="#b" x="1806.1" y="591.1"/><use href="#o" x="1821.8" y="584.3"/><use href="#o" x="1796.3" y="589.0"/><use href="#o" x="1857.1" y="599.3"/><use href="#o" x="1592.2" y="603.0"/><use href="#o" x="1693.2" y="610.1"/><use href="#b" x="1904.1" y="613.9"/><use href="#b" x="2069.4" y="610.1"/><use href="#b" x="2082.3" y="626.1"/><use href="#b" x="1757.1" y="642.1"/><use href="#o" x="1757.1" y="619.3"/><use href="#o" x="1783.0" y="623.1"/><use href="#o" x="1982.3" y="624.1"/><use href="#b" x="1835.0" y="653.0"/><use href="#b" x="1626.2" y="664.2"/><use href="#b" x="2565.3" y="282.2"/><use href="#b" x="2186.4" y="430.2"/><use href="#b" x="2146.3" y="506.1"/><use href="#b" x="2243.2" y="582.2"/><use href="#b" x="1906.1" y="680.2"/><use href="#o" x="1983.3" y="683.3"/><use href="#o" x="1691.2" y="709.5"/><use href="#b" x="1840.1" y="707.1"/><use href="#b" x="1889.1" y="700.3"/><use href="#o" x="1912.2" y="712.2"/><use href="#o" x="1796.3" y="727.1"/><use href="#b" x="1801.0" y="719.3"/><use href="#o" x="1795.2" y="712.2"/><use href="#b" x="1830.3" y="727.1"/><use href="#b" x="1845.2" y="731.2"/><use href="#b" x="1882.3" y="723.1"/><use href="#b" x="1939.1" y="728.2"/><use href="#b" x="1972.1" y="754.4"/><use href="#b" x="1979.9" y="745.2"/><use href="#b" x="1625.2" y="772.0"/><use href="#b" x="1765.3" y="775.1"/><use href="#o" x="1803.4" y="772.0"/><use href="#o" x="1897.3" y="781.2"/><use href="#o" x="1621.4" y="797.2"/><use href="#o" x="1970.1" y="813.2"/><use href="#o" x="2045.2" y="829.2"/><use href="#b" x="1899.3" y="849.3"/><use href="#b" x="1982.3" y="852.3"/><use href="#o" x="2023.1" y="871.4"/><use href="#b" x="1785.0" y="874.1"/><use href="#b" x="1673.5" y="902.3"/><use href="#o" x="1987.1" y="1030.2"/><use href="#o" x="1991.2" y="1067.3"/><use href="#b" x="2232.3" y="708.1"/><use href="#o" x="2377.2" y="703.3"/></g>
<path d="M1531.0 137.3V1112.3H2615.0" class="sp"/>
<path d="M1559.2 1112.3v14.58M1822.3 1112.3v14.58M2085.4 1112.3v14.58M2348.5 1112.3v14.58M2611.6 1112.3v14.58M1531.0 139.4h-14.58M1531.0 249.2h-14.58M1531.0 359.0h-14.58M1531.0 468.8h-14.58M1531.0 578.6h-14.58M1531.0 688.4h-14.58M1531.0 798.2h-14.58M1531.0 908.0h-14.58M1531.0 1017.8h-14.58" class="tk"/>
<g><use href="#o" x="3054.4" y="349.3"/><use href="#b" x="3219.0" y="354.4"/><use href="#b" x="3148.2" y="367.3"/><use href="#o" x="2995.2" y="431.2"/><use href="#b" x="3138.0" y="456.1"/><use href="#b" x="2932.3" y="480.9"/><use href="#o" x="3230.2" y="475.1"/><use href="#b" x="3270.0" y="473.1"/><use href="#o" x="3270.0" y="491.1"/><use href="#o" x="3310.1" y="471.0"/><use href="#b" x="3352.0" y="491.1"/><use href="#b" x="3363.2" y="523.1"/><use href="#b" x="2881.2" y="538.0"/><use href="#b" x="2865.3" y="565.9"/><use href="#o" x="2987.4" y="561.2"/><use href="#o" x="3172.1" y="577.1"/><use href="#o" x="3218.3" y="577.1"/><use href="#o" x="3013.2" y="599.3"/><use href="#b" x="3072.1" y="598.9"/><use href="#o" x="3143.1" y="606.4"/><use href="#b" x="3086.3" y="621.0"/><use href="#o" x="3368.3" y="632.2"/><use href="#b" x="3315.3" y="648.9"/><use href="#b" x="3140.1" y="655.0"/><use href="#b" x="3132.3" y="660.8"/><use href="#b" x="3185.3" y="656.7"/><use href="#b" x="3168.3" y="663.2"/><use href="#b" x="3214.2" y="660.8"/><use href="#o" x="3773.1" y="181.2"/><use href="#o" x="3778.2" y="497.2"/><use href="#o" x="3438.0" y="514.2"/><use href="#o" x="3522.1" y="551.3"/><use href="#o" x="3621.4" y="590.1"/><use href="#o" x="3550.3" y="636.0"/><use href="#b" x="3815.3" y="643.1"/><use href="#o" x="3474.1" y="659.1"/><use href="#b" x="3103.0" y="684.3"/><use href="#b" x="3107.1" y="674.1"/><use href="#b" x="3134.6" y="670.0"/><use href="#b" x="3264.2" y="677.5"/><use href="#b" x="3381.2" y="680.2"/><use href="#b" x="2989.1" y="692.4"/><use href="#b" x="2997.9" y="684.3"/><use href="#o" x="2936.3" y="697.2"/><use href="#o" x="3112.9" y="693.8"/><use href="#o" x="3134.3" y="700.6"/><use href="#b" x="3233.3" y="695.2"/><use href="#o" x="3223.1" y="712.2"/><use href="#b" x="3155.0" y="704.0"/><use href="#b" x="3174.1" y="718.3"/><use href="#o" x="3161.2" y="715.9"/><use href="#o" x="3026.1" y="720.3"/><use href="#b" x="3069.3" y="730.5"/><use href="#b" x="3085.7" y="726.5"/><use href="#o" x="3363.2" y="728.2"/><use href="#o" x="3124.1" y="742.1"/><use href="#o" x="3172.1" y="743.1"/><use href="#o" x="3208.4" y="748.2"/><use href="#o" x="3193.8" y="755.0"/><use href="#o" x="3275.1" y="752.3"/><use href="#b" x="3039.4" y="767.6"/><use href="#b" x="3058.1" y="772.0"/><use href="#b" x="3072.7" y="766.9"/><use href="#b" x="3064.9" y="752.3"/><use href="#b" x="3084.3" y="756.1"/><use href="#b" x="3073.4" y="796.5"/><use href="#b" x="3079.2" y="785.6"/><use href="#o" x="2968.3" y="761.2"/><use href="#o" x="2957.4" y="775.4"/><use href="#o" x="2983.3" y="782.2"/><use href="#o" x="3025.1" y="774.1"/><use href="#o" x="3118.0" y="771.0"/><use href="#o" x="3140.4" y="776.1"/><use href="#o" x="3157.1" y="787.3"/><use href="#b" x="3202.3" y="776.1"/><use href="#b" x="3256.1" y="783.9"/><use href="#o" x="3241.1" y="790.1"/><use href="#o" x="3058.1" y="790.1"/><use href="#o" x="3368.3" y="799.3"/><use href="#b" x="3015.6" y="823.1"/><use href="#b" x="2997.9" y="802.7"/><use href="#b" x="3002.0" y="810.1"/><use href="#o" x="3013.2" y="810.1"/><use href="#o" x="3196.2" y="804.4"/><use href="#b" x="3218.3" y="814.2"/><use href="#o" x="3113.9" y="810.8"/><use href="#o" x="3126.1" y="815.2"/><use href="#b" x="3153.3" y="820.0"/><use href="#o" x="3367.3" y="827.1"/><use href="#o" x="3183.3" y="841.1"/><use href="#o" x="3126.1" y="845.2"/><use href="#b" x="3156.1" y="851.3"/><use href="#o" x="3143.1" y="853.0"/><use href="#b" x="3030.2" y="850.3"/><use href="#b" x="3073.4" y="857.1"/><use href="#b" x="3075.8" y="858.1"/><use href="#b" x="3113.9" y="869.0"/><use href="#o" x="3205.0" y="874.1"/><use href="#o" x="3203.3" y="887.7"/><use href="#b" x="3055.0" y="878.2"/><use href="#o" x="3043.1" y="883.3"/><use href="#b" x="2979.2" y="903.3"/><use href="#b" x="2979.2" y="919.3"/><use href="#b" x="3102.3" y="907.1"/><use href="#b" x="3105.7" y="909.8"/><use href="#o" x="3126.1" y="931.9"/><use href="#o" x="3111.2" y="915.6"/><use href="#o" x="3137.0" y="917.3"/><use href="#b" x="3215.3" y="936.3"/><use href="#o" x="3214.2" y="955.7"/><use href="#b" x="3041.1" y="959.1"/><use href="#b" x="3045.2" y="949.6"/><use href="#o" x="3190.1" y="961.8"/><use href="#o" x="3262.2" y="958.4"/><use href="#o" x="3315.3" y="1046.2"/><use href="#b" x="3380.2" y="1067.3"/><use href="#o" x="3423.4" y="673.4"/><use href="#b" x="3405.4" y="704.0"/><use href="#o" x="3447.2" y="734.3"/><use href="#b" x="3850.3" y="729.2"/><use href="#b" x="3409.1" y="777.1"/><use href="#b" x="3589.4" y="781.2"/><use href="#o" x="3525.5" y="826.1"/><use href="#b" x="3408.1" y="859.1"/><use href="#b" x="3569.3" y="878.2"/><use href="#b" x="3499.3" y="894.1"/><use href="#b" x="3502.3" y="923.4"/><use href="#o" x="3516.3" y="960.1"/><use href="#o" x="3460.1" y="997.2"/></g>
<path d="M2816.4 137.3V1112.3H3900.4" class="sp"/>
<path d="M2992.1 1112.3v14.58M3199.9 1112.3v14.58M3407.7 1112.3v14.58M3615.5 1112.3v14.58M3823.3 1112.3v14.58M2816.4 248.6h-14.58M2816.4 372.6h-14.58M2816.4 496.5h-14.58M2816.4 620.5h-14.58M2816.4 744.4h-14.58M2816.4 868.4h-14.58M2816.4 992.4h-14.58" class="tk"/>
<g><use href="#o" x="1825.2" y="1330.2"/><use href="#o" x="1638.1" y="1562.2"/><use href="#o" x="1750.3" y="1586.0"/><use href="#o" x="1718.4" y="1598.9"/><use href="#b" x="1580.3" y="1717.3"/><use href="#o" x="1808.2" y="1714.9"/><use href="#o" x="1957.1" y="1784.3"/><use href="#o" x="1935.0" y="1784.3"/><use href="#b" x="1903.1" y="1803.0"/><use href="#b" x="2192.2" y="1613.2"/><use href="#b" x="2156.5" y="1651.3"/><use href="#o" x="2565.3" y="1653.4"/><use href="#b" x="2192.2" y="1701.3"/><use href="#o" x="2317.3" y="1807.4"/><use href="#b" x="1656.1" y="1839.4"/><use href="#o" x="1734.4" y="1851.3"/><use href="#o" x="1983.3" y="1837.0"/><use href="#o" x="1889.1" y="1877.2"/><use href="#o" x="2064.3" y="1882.3"/><use href="#o" x="1693.2" y="1970.0"/><use href="#b" x="1866.0" y="1985.3"/><use href="#o" x="1922.1" y="1981.2"/><use href="#o" x="2092.2" y="1982.3"/><use href="#b" x="1728.2" y="2082.3"/><use href="#b" x="1890.1" y="2194.2"/><use href="#b" x="2457.1" y="2117.3"/><use href="#o" x="2331.3" y="2217.3"/></g>
<path d="M1531.0 1286.3V2261.3H2615.0" class="sp"/>
<path d="M1557.1 2261.3v14.58M1773.1 2261.3v14.58M1989.1 2261.3v14.58M2205.1 2261.3v14.58M2421.1 2261.3v14.58M1531.0 1349.1h-14.58M1531.0 1472.4h-14.58M1531.0 1595.7h-14.58M1531.0 1719.0h-14.58M1531.0 1842.3h-14.58M1531.0 1965.6h-14.58M1531.0 2088.9h-14.58M1531.0 2212.2h-14.58" class="tk"/>
<g><use href="#o" x="3260.1" y="1490.4"/><use href="#b" x="2992.1" y="1504.4"/><use href="#o" x="3165.3" y="1556.4"/><use href="#o" x="3304.0" y="1585.3"/><use href="#o" x="3222.1" y="1602.3"/><use href="#b" x="3096.2" y="1634.3"/><use href="#b" x="3315.3" y="1687.0"/><use href="#o" x="3057.4" y="1692.1"/><use href="#o" x="3073.4" y="1696.2"/><use href="#o" x="3193.1" y="1713.2"/><use href="#b" x="3050.3" y="1736.3"/><use href="#o" x="3044.2" y="1719.3"/><use href="#o" x="3312.2" y="1733.3"/><use href="#b" x="2865.3" y="1753.0"/><use href="#b" x="2935.3" y="1768.0"/><use href="#o" x="3268.3" y="1759.1"/><use href="#b" x="3223.1" y="1771.0"/><use href="#o" x="3025.1" y="1787.0"/><use href="#b" x="3196.2" y="1789.1"/><use href="#o" x="3120.4" y="1800.0"/><use href="#o" x="3478.2" y="1330.2"/><use href="#b" x="3850.3" y="1483.3"/><use href="#b" x="3628.2" y="1645.2"/><use href="#o" x="3658.1" y="1746.2"/><use href="#o" x="3587.4" y="1805.1"/><use href="#o" x="3060.1" y="1849.3"/><use href="#b" x="3177.2" y="1856.1"/><use href="#o" x="3213.2" y="1880.2"/><use href="#o" x="3341.1" y="1874.1"/><use href="#o" x="3117.3" y="1903.0"/><use href="#o" x="3141.1" y="1908.1"/><use href="#o" x="3182.3" y="1918.3"/><use href="#o" x="3190.1" y="1903.0"/><use href="#b" x="3139.1" y="1945.2"/><use href="#b" x="3094.2" y="1984.3"/><use href="#o" x="3265.9" y="2001.3"/><use href="#o" x="3277.2" y="2040.4"/><use href="#o" x="3043.1" y="2055.1"/><use href="#o" x="3286.0" y="2085.3"/><use href="#o" x="3230.2" y="2166.3"/><use href="#b" x="3113.9" y="2217.0"/><use href="#o" x="3450.3" y="1951.0"/><use href="#b" x="3656.4" y="1963.2"/><use href="#o" x="3785.3" y="1953.4"/><use href="#o" x="3695.2" y="2037.0"/></g>
<path d="M2816.4 1286.3V2261.3H3900.4" class="sp"/>
<path d="M2830.2 2261.3v14.58M2978.2 2261.3v14.58M3126.2 2261.3v14.58M3274.3 2261.3v14.58M3422.4 2261.3v14.58M3570.4 2261.3v14.58M3718.5 2261.3v14.58M3866.5 2261.3v14.58M2816.4 1386.3h-14.58M2816.4 1534.1h-14.58M2816.4 1681.9h-14.58M2816.4 1829.7h-14.58M2816.4 1977.5h-14.58M2816.4 2125.3h-14.58" class="tk"/>
<g><use href="#o" x="652.1" y="3629.2"/><use href="#o" x="712.3" y="3701.4"/><use href="#o" x="531.3" y="3718.0"/><use href="#o" x="753.1" y="3731.3"/><use href="#o" x="318.4" y="3756.8"/><use href="#o" x="319.1" y="3776.2"/><use href="#o" x="405.1" y="3794.2"/><use href="#o" x="597.3" y="3874.1"/><use href="#o" x="477.2" y="3882.3"/><use href="#o" x="615.3" y="3908.2"/><use href="#o" x="524.2" y="3918.0"/><use href="#o" x="577.2" y="3955.1"/><use href="#b" x="430.3" y="3965.0"/><use href="#o" x="751.4" y="3980.9"/><use href="#o" x="394.3" y="3998.3"/><use href="#o" x="608.2" y="3998.3"/><use href="#b" x="355.1" y="4029.9"/><use href="#o" x="341.2" y="4032.3"/><use href="#o" x="350.4" y="4036.4"/><use href="#o" x="505.1" y="4038.1"/><use href="#o" x="620.1" y="4049.0"/><use href="#o" x="638.1" y="4057.1"/><use href="#o" x="657.2" y="4071.1"/><use href="#o" x="461.3" y="4060.2"/><use href="#o" x="730.0" y="4061.2"/><use href="#o" x="775.2" y="4077.2"/><use href="#o" x="745.3" y="4099.3"/><use href="#o" x="553.1" y="4104.1"/><use href="#o" x="433.4" y="4110.2"/><use href="#o" x="318.4" y="4117.0"/><use href="#o" x="975.2" y="3756.1"/><use href="#o" x="866.4" y="3786.0"/><use href="#b" x="891.2" y="3845.2"/><use href="#o" x="945.3" y="3875.2"/><use href="#o" x="911.3" y="3973.1"/><use href="#b" x="1030.3" y="3995.2"/><use href="#o" x="1068.4" y="3996.3"/><use href="#o" x="839.1" y="4103.4"/><use href="#o" x="1015.3" y="4114.6"/><use href="#o" x="1280.3" y="4114.6"/><use href="#o" x="509.2" y="4155.1"/><use href="#o" x="548.3" y="4166.3"/><use href="#o" x="612.3" y="4152.0"/><use href="#o" x="666.0" y="4143.2"/><use href="#o" x="768.4" y="4142.2"/><use href="#o" x="454.5" y="4194.2"/><use href="#o" x="371.1" y="4203.1"/><use href="#o" x="405.1" y="4209.2"/><use href="#o" x="796.3" y="4203.1"/><use href="#o" x="481.3" y="4222.1"/><use href="#o" x="556.2" y="4257.1"/><use href="#o" x="545.3" y="4236.0"/><use href="#o" x="780.3" y="4238.1"/><use href="#o" x="295.3" y="4258.2"/><use href="#o" x="752.1" y="4266.3"/><use href="#o" x="804.5" y="4269.0"/><use href="#o" x="696.0" y="4305.1"/><use href="#o" x="694.9" y="4330.3"/><use href="#o" x="551.1" y="4323.1"/><use href="#o" x="575.2" y="4331.3"/><use href="#o" x="602.1" y="4339.1"/><use href="#o" x="385.1" y="4330.3"/><use href="#o" x="331.3" y="4335.0"/><use href="#o" x="362.3" y="4352.0"/><use href="#o" x="740.2" y="4367.3"/><use href="#o" x="661.3" y="4405.1"/><use href="#o" x="572.1" y="4469.0"/><use href="#o" x="605.1" y="4491.1"/><use href="#o" x="759.2" y="4515.0"/><use href="#o" x="900.0" y="4217.0"/><use href="#o" x="826.2" y="4332.3"/><use href="#o" x="883.0" y="4337.1"/><use href="#o" x="1214.3" y="4375.2"/><use href="#o" x="876.2" y="4414.3"/></g>
<path d="M245.6 3584.3V4559.3H1329.6" class="sp"/>
<path d="M265.2 4559.3v14.58M455.2 4559.3v14.58M645.3 4559.3v14.58M835.3 4559.3v14.58M1025.4 4559.3v14.58M1215.5 4559.3v14.58M245.6 3599.3h-14.58M245.6 3728.6h-14.58M245.6 3857.8h-14.58M245.6 3987.1h-14.58M245.6 4116.4h-14.58M245.6 4245.6h-14.58M245.6 4374.9h-14.58M245.6 4504.1h-14.58" class="tk"/>
<g><use href="#o" x="1784.7" y="3629.0"/><use href="#o" x="1754.5" y="4055.7"/><use href="#o" x="1731.6" y="4181.0"/><use href="#o" x="1764.8" y="4267.2"/><use href="#o" x="2564.4" y="4285.6"/><use href="#o" x="1639.5" y="4384.4"/><use href="#o" x="2530.5" y="4383.6"/><use href="#o" x="1664.6" y="4472.8"/><use href="#o" x="1579.8" y="4514.8"/></g>
<path d="M1531.0 3584.3V4559.3H2615.0" class="sp"/>
<path d="M1752.3 4559.3v14.58M2000.7 4559.3v14.58M2249.1 4559.3v14.58M2497.5 4559.3v14.58M1531.0 3701.2h-14.58M1531.0 3825.0h-14.58M1531.0 3948.8h-14.58M1531.0 4072.6h-14.58M1531.0 4196.4h-14.58M1531.0 4320.2h-14.58M1531.0 4444.0h-14.58" class="tk"/>
<g></g>
<path d="M2816.4 3584.3V4559.3H3900.4" class="sp"/>
<path d="M2816.4 4559.3v14.58M3033.2 4559.3v14.58M3250.0 4559.3v14.58M3466.8 4559.3v14.58M3683.6 4559.3v14.58M3900.4 4559.3v14.58M2816.4 3584.3h-14.58M2816.4 3779.3h-14.58M2816.4 3974.3h-14.58M2816.4 4169.3h-14.58M2816.4 4364.3h-14.58M2816.4 4559.3h-14.58" class="tk"/>
<g><use href="#o" x="700.0" y="1330.2"/><use href="#o" x="768.1" y="1492.5"/><use href="#b" x="626.2" y="1527.5"/><use href="#o" x="657.2" y="1527.5"/><use href="#b" x="609.2" y="1585.3"/><use href="#o" x="432.3" y="1604.0"/><use href="#o" x="640.2" y="1622.1"/><use href="#b" x="702.1" y="1620.0"/><use href="#b" x="576.2" y="1634.6"/><use href="#o" x="401.1" y="1642.1"/><use href="#b" x="423.2" y="1648.3"/><use href="#o" x="375.2" y="1652.0"/><use href="#o" x="444.3" y="1656.1"/><use href="#b" x="404.1" y="1672.1"/><use href="#o" x="604.1" y="1643.1"/><use href="#o" x="572.1" y="1650.6"/><use href="#o" x="589.1" y="1658.1"/><use href="#o" x="620.1" y="1658.1"/><use href="#o" x="648.0" y="1658.1"/><use href="#b" x="694.3" y="1655.1"/><use href="#o" x="700.0" y="1640.1"/><use href="#o" x="740.2" y="1635.3"/><use href="#o" x="724.2" y="1641.1"/><use href="#o" x="732.0" y="1660.2"/><use href="#o" x="745.3" y="1658.1"/><use href="#o" x="691.2" y="1674.1"/><use href="#b" x="801.1" y="1650.0"/><use href="#b" x="782.0" y="1670.4"/><use href="#o" x="749.0" y="1686.0"/><use href="#o" x="741.2" y="1695.2"/><use href="#o" x="488.1" y="1704.0"/><use href="#b" x="445.3" y="1718.0"/><use href="#b" x="685.1" y="1706.1"/><use href="#o" x="686.1" y="1707.8"/><use href="#b" x="703.1" y="1714.6"/><use href="#o" x="704.1" y="1724.1"/><use href="#o" x="712.3" y="1736.0"/><use href="#o" x="697.0" y="1740.1"/><use href="#b" x="551.7" y="1731.6"/><use href="#b" x="583.0" y="1729.9"/><use href="#o" x="791.2" y="1732.3"/><use href="#o" x="797.3" y="1740.1"/><use href="#o" x="295.3" y="1752.0"/><use href="#b" x="380.3" y="1751.0"/><use href="#o" x="423.2" y="1741.8"/><use href="#o" x="435.1" y="1744.2"/><use href="#o" x="446.3" y="1741.1"/><use href="#o" x="491.2" y="1743.5"/><use href="#o" x="516.0" y="1755.4"/><use href="#o" x="525.2" y="1752.0"/><use href="#b" x="618.1" y="1743.5"/><use href="#o" x="580.6" y="1741.8"/><use href="#o" x="594.3" y="1743.5"/><use href="#o" x="571.1" y="1753.7"/><use href="#o" x="603.8" y="1747.2"/><use href="#o" x="606.5" y="1750.0"/><use href="#o" x="624.9" y="1750.3"/><use href="#o" x="631.7" y="1762.2"/><use href="#o" x="668.1" y="1749.3"/><use href="#o" x="674.2" y="1760.5"/><use href="#o" x="685.1" y="1769.0"/><use href="#o" x="733.0" y="1758.8"/><use href="#o" x="536.4" y="1771.7"/><use href="#o" x="555.1" y="1777.5"/><use href="#b" x="586.1" y="1765.6"/><use href="#o" x="588.1" y="1775.8"/><use href="#o" x="606.5" y="1772.7"/><use href="#o" x="609.2" y="1775.5"/><use href="#o" x="616.4" y="1784.3"/><use href="#b" x="426.9" y="1781.9"/><use href="#o" x="447.3" y="1775.1"/><use href="#b" x="410.9" y="1794.5"/><use href="#b" x="401.1" y="1812.2"/><use href="#o" x="488.1" y="1785.3"/><use href="#o" x="504.1" y="1792.1"/><use href="#o" x="486.1" y="1803.0"/><use href="#o" x="449.7" y="1800.0"/><use href="#o" x="452.4" y="1802.7"/><use href="#o" x="428.3" y="1809.1"/><use href="#o" x="544.9" y="1787.7"/><use href="#o" x="548.7" y="1796.6"/><use href="#o" x="551.4" y="1799.3"/><use href="#o" x="538.1" y="1806.4"/><use href="#o" x="529.6" y="1809.8"/><use href="#o" x="576.2" y="1787.0"/><use href="#o" x="585.7" y="1799.6"/><use href="#o" x="601.1" y="1797.9"/><use href="#o" x="614.7" y="1803.0"/><use href="#o" x="641.2" y="1786.0"/><use href="#o" x="652.1" y="1801.3"/><use href="#o" x="665.0" y="1808.1"/><use href="#b" x="768.1" y="1784.3"/><use href="#o" x="788.1" y="1779.2"/><use href="#o" x="805.1" y="1778.2"/><use href="#b" x="690.2" y="1804.0"/><use href="#o" x="704.8" y="1812.2"/><use href="#b" x="736.1" y="1806.4"/><use href="#o" x="732.0" y="1819.0"/><use href="#o" x="834.4" y="1483.3"/><use href="#b" x="1107.2" y="1543.1"/><use href="#o" x="1280.3" y="1536.3"/><use href="#o" x="886.1" y="1581.2"/><use href="#o" x="831.0" y="1684.0"/><use href="#o" x="840.9" y="1699.6"/><use href="#o" x="842.2" y="1701.0"/><use href="#b" x="896.3" y="1687.0"/><use href="#o" x="954.1" y="1691.1"/><use href="#o" x="878.3" y="1735.0"/><use href="#o" x="908.2" y="1730.2"/><use href="#o" x="966.4" y="1745.2"/><use href="#o" x="1036.1" y="1762.2"/><use href="#b" x="1171.1" y="1770.0"/><use href="#o" x="828.3" y="1777.2"/><use href="#o" x="858.2" y="1777.2"/><use href="#o" x="855.1" y="1795.2"/><use href="#b" x="426.9" y="1879.2"/><use href="#b" x="445.3" y="1883.6"/><use href="#b" x="419.1" y="1897.9"/><use href="#b" x="404.1" y="1934.6"/><use href="#b" x="413.3" y="1954.0"/><use href="#b" x="410.2" y="2006.1"/><use href="#b" x="478.3" y="2042.1"/><use href="#b" x="467.0" y="1968.7"/><use href="#b" x="595.3" y="2186.3"/><use href="#b" x="775.2" y="2145.2"/><use href="#b" x="643.2" y="2093.1"/><use href="#b" x="809.2" y="2195.2"/><use href="#b" x="522.1" y="2101.3"/><use href="#b" x="686.1" y="2059.1"/><use href="#b" x="587.4" y="2060.5"/><use href="#b" x="810.2" y="2053.7"/><use href="#b" x="810.2" y="2079.2"/><use href="#b" x="740.5" y="2011.2"/><use href="#b" x="771.1" y="1971.0"/><use href="#b" x="702.1" y="1936.3"/><use href="#b" x="772.8" y="1936.3"/><use href="#b" x="789.8" y="1926.1"/><use href="#b" x="797.0" y="1909.5"/><use href="#b" x="799.7" y="1912.2"/><use href="#b" x="810.2" y="1897.2"/><use href="#b" x="561.9" y="1915.9"/><use href="#b" x="538.1" y="1907.4"/><use href="#b" x="544.9" y="1927.2"/><use href="#b" x="556.8" y="1887.0"/><use href="#b" x="485.7" y="1846.6"/><use href="#b" x="488.5" y="1849.3"/><use href="#b" x="483.7" y="1870.0"/><use href="#b" x="507.5" y="1871.7"/><use href="#b" x="548.3" y="1825.8"/><use href="#b" x="550.0" y="1839.4"/><use href="#b" x="578.9" y="1830.9"/><use href="#b" x="638.5" y="1834.3"/><use href="#b" x="665.7" y="1829.2"/><use href="#b" x="653.8" y="1873.4"/><use href="#b" x="628.3" y="1905.7"/><use href="#b" x="645.3" y="1907.4"/><use href="#b" x="645.6" y="1948.6"/><use href="#b" x="648.3" y="1951.3"/><use href="#b" x="480.3" y="1915.9"/><use href="#b" x="483.7" y="1932.9"/><use href="#b" x="565.3" y="2004.4"/><use href="#b" x="539.8" y="2006.1"/><use href="#b" x="541.5" y="1989.1"/><use href="#b" x="504.1" y="1987.4"/><use href="#b" x="585.7" y="1968.7"/><use href="#b" x="662.3" y="2036.7"/><use href="#b" x="561.9" y="2031.6"/><use href="#b" x="664.0" y="2016.3"/><use href="#o" x="432.7" y="1830.9"/><use href="#o" x="438.1" y="1841.1"/><use href="#o" x="475.2" y="1825.8"/><use href="#o" x="514.3" y="1829.2"/><use href="#o" x="572.1" y="1829.2"/><use href="#o" x="592.6" y="1824.1"/><use href="#o" x="599.4" y="1830.9"/><use href="#o" x="621.5" y="1834.3"/><use href="#o" x="633.4" y="1827.5"/><use href="#o" x="655.5" y="1837.7"/><use href="#o" x="664.0" y="1820.7"/><use href="#o" x="692.9" y="1829.2"/><use href="#o" x="701.4" y="1827.5"/><use href="#o" x="725.2" y="1829.2"/><use href="#o" x="743.9" y="1841.1"/><use href="#o" x="785.1" y="1824.4"/><use href="#o" x="787.8" y="1827.2"/><use href="#o" x="500.7" y="1853.0"/><use href="#o" x="512.6" y="1851.3"/><use href="#o" x="529.6" y="1849.6"/><use href="#o" x="540.2" y="1850.0"/><use href="#o" x="542.9" y="1852.7"/><use href="#o" x="553.4" y="1849.6"/><use href="#o" x="478.6" y="1868.3"/><use href="#o" x="538.1" y="1859.8"/><use href="#o" x="567.4" y="1867.0"/><use href="#o" x="570.1" y="1869.7"/><use href="#o" x="592.6" y="1863.2"/><use href="#o" x="606.2" y="1870.0"/><use href="#o" x="620.1" y="1870.4"/><use href="#o" x="622.8" y="1873.1"/><use href="#o" x="635.1" y="1873.4"/><use href="#o" x="687.8" y="1856.4"/><use href="#o" x="706.5" y="1861.5"/><use href="#o" x="715.0" y="1847.9"/><use href="#o" x="721.8" y="1866.6"/><use href="#o" x="784.7" y="1853.0"/><use href="#o" x="758.2" y="1871.0"/><use href="#o" x="791.9" y="1877.2"/><use href="#o" x="794.6" y="1879.9"/><use href="#o" x="708.2" y="1883.6"/><use href="#o" x="643.9" y="1882.3"/><use href="#o" x="646.6" y="1885.0"/><use href="#o" x="660.6" y="1885.3"/><use href="#o" x="672.5" y="1895.5"/><use href="#o" x="691.2" y="1893.8"/><use href="#o" x="696.6" y="1904.4"/><use href="#o" x="699.4" y="1907.1"/><use href="#o" x="606.2" y="1890.4"/><use href="#o" x="609.6" y="1898.9"/><use href="#o" x="619.8" y="1885.3"/><use href="#o" x="438.1" y="1900.0"/><use href="#o" x="500.0" y="1895.5"/><use href="#o" x="481.3" y="1905.1"/><use href="#o" x="504.1" y="1905.7"/><use href="#o" x="516.4" y="1908.8"/><use href="#o" x="519.1" y="1911.5"/><use href="#o" x="507.5" y="1917.6"/><use href="#o" x="599.4" y="1915.9"/><use href="#o" x="608.2" y="1919.7"/><use href="#o" x="610.9" y="1922.4"/><use href="#o" x="631.7" y="1917.6"/><use href="#o" x="650.4" y="1907.4"/><use href="#o" x="636.8" y="1924.4"/><use href="#o" x="650.4" y="1938.0"/><use href="#o" x="628.3" y="1943.1"/><use href="#o" x="772.8" y="1907.4"/><use href="#o" x="768.1" y="1916.3"/><use href="#o" x="770.8" y="1919.0"/><use href="#o" x="755.8" y="1926.1"/><use href="#o" x="742.2" y="1927.8"/><use href="#o" x="436.1" y="1929.5"/><use href="#o" x="425.9" y="1934.6"/><use href="#o" x="497.7" y="1926.5"/><use href="#o" x="500.4" y="1929.2"/><use href="#o" x="500.7" y="1939.7"/><use href="#o" x="517.7" y="1927.8"/><use href="#o" x="578.3" y="1934.6"/><use href="#o" x="587.4" y="1946.6"/><use href="#o" x="542.2" y="1945.5"/><use href="#o" x="605.1" y="1956.8"/><use href="#o" x="715.0" y="1943.1"/><use href="#o" x="726.9" y="1950.0"/><use href="#o" x="728.9" y="1962.2"/><use href="#o" x="731.7" y="1964.9"/><use href="#o" x="718.4" y="1965.3"/><use href="#o" x="755.8" y="1953.4"/><use href="#o" x="484.0" y="1960.5"/><use href="#o" x="486.8" y="1963.2"/><use href="#o" x="492.6" y="1972.4"/><use href="#o" x="495.3" y="1975.1"/><use href="#o" x="505.8" y="1958.5"/><use href="#o" x="510.9" y="1973.8"/><use href="#o" x="527.2" y="1970.4"/><use href="#o" x="541.5" y="1963.6"/><use href="#o" x="561.9" y="1963.6"/><use href="#o" x="440.2" y="1974.8"/><use href="#o" x="470.1" y="1980.6"/><use href="#o" x="578.9" y="1973.8"/><use href="#o" x="582.7" y="1975.8"/><use href="#o" x="585.4" y="1978.5"/><use href="#o" x="601.1" y="1972.1"/><use href="#o" x="661.3" y="1973.1"/><use href="#o" x="703.1" y="1980.6"/><use href="#o" x="703.8" y="1988.0"/><use href="#o" x="734.4" y="1982.3"/><use href="#o" x="755.8" y="1990.8"/><use href="#o" x="781.3" y="1993.1"/><use href="#o" x="801.1" y="1978.9"/><use href="#o" x="523.8" y="1989.1"/><use href="#o" x="607.9" y="1989.1"/><use href="#o" x="580.6" y="1985.7"/><use href="#o" x="592.6" y="2004.4"/><use href="#o" x="505.1" y="2008.1"/><use href="#o" x="613.0" y="2016.3"/><use href="#o" x="647.0" y="2011.2"/><use href="#o" x="664.7" y="2002.7"/><use href="#o" x="679.3" y="2004.4"/><use href="#o" x="664.0" y="2023.1"/><use href="#o" x="687.1" y="2027.2"/><use href="#o" x="745.6" y="2012.9"/><use href="#o" x="766.0" y="2004.4"/><use href="#o" x="776.2" y="2007.8"/><use href="#o" x="799.4" y="2018.0"/><use href="#o" x="546.3" y="2019.7"/><use href="#o" x="578.9" y="2029.2"/><use href="#o" x="531.3" y="2031.6"/><use href="#o" x="559.2" y="2040.1"/><use href="#o" x="605.1" y="2038.4"/><use href="#o" x="522.8" y="2045.2"/><use href="#o" x="544.3" y="2058.8"/><use href="#o" x="640.2" y="2045.2"/><use href="#o" x="664.0" y="2043.5"/><use href="#o" x="675.9" y="2053.7"/><use href="#o" x="715.0" y="2045.2"/><use href="#o" x="770.1" y="2058.1"/><use href="#o" x="581.3" y="2061.5"/><use href="#o" x="599.4" y="2074.1"/><use href="#o" x="648.0" y="2070.0"/><use href="#o" x="517.4" y="2080.2"/><use href="#o" x="763.3" y="2082.9"/><use href="#o" x="510.2" y="2105.4"/><use href="#o" x="702.1" y="2107.1"/><use href="#o" x="738.1" y="2111.5"/><use href="#o" x="914.0" y="1834.3"/><use href="#b" x="821.1" y="1846.2"/><use href="#o" x="820.1" y="1867.3"/><use href="#o" x="862.3" y="1860.2"/><use href="#o" x="892.2" y="1870.0"/><use href="#b" x="887.1" y="1883.3"/><use href="#o" x="895.3" y="1886.0"/><use href="#o" x="1048.0" y="1867.3"/><use href="#o" x="816.7" y="1883.6"/><use href="#b" x="922.1" y="1901.0"/><use href="#o" x="864.3" y="1912.2"/><use href="#o" x="821.1" y="1921.0"/><use href="#o" x="837.1" y="1926.1"/><use href="#o" x="867.7" y="1927.8"/><use href="#o" x="868.7" y="1936.3"/><use href="#o" x="870.1" y="1937.7"/><use href="#o" x="932.3" y="1934.3"/><use href="#o" x="1143.2" y="1948.3"/><use href="#o" x="823.2" y="1978.2"/><use href="#o" x="924.2" y="1976.1"/><use href="#o" x="897.3" y="2003.0"/><use href="#o" x="927.2" y="2004.0"/><use href="#o" x="943.2" y="2016.3"/><use href="#o" x="975.2" y="2006.1"/><use href="#o" x="1056.2" y="2004.0"/><use href="#o" x="832.0" y="2020.4"/><use href="#o" x="882.0" y="2048.3"/><use href="#b" x="909.2" y="2047.2"/><use href="#b" x="955.1" y="2039.1"/><use href="#o" x="823.2" y="2070.4"/><use href="#o" x="865.0" y="2073.1"/><use href="#o" x="1034.0" y="2217.0"/></g>
<path d="M245.6 1286.3V2261.3H1329.6" class="sp"/>
<path d="M374.7 2261.3v14.58M629.0 2261.3v14.58M883.3 2261.3v14.58M1137.6 2261.3v14.58M245.6 1328.2h-14.58M245.6 1493.4h-14.58M245.6 1658.6h-14.58M245.6 1823.8h-14.58M245.6 1989.0h-14.58M245.6 2154.2h-14.58" class="tk"/>
<g><use href="#b" x="477.2" y="2479.2"/><use href="#o" x="535.1" y="2571.1"/><use href="#o" x="487.1" y="2593.2"/><use href="#o" x="676.2" y="2642.1"/><use href="#b" x="730.3" y="2658.1"/><use href="#o" x="508.2" y="2656.1"/><use href="#o" x="484.0" y="2677.2"/><use href="#o" x="497.0" y="2685.3"/><use href="#o" x="610.2" y="2709.2"/><use href="#o" x="650.0" y="2714.3"/><use href="#b" x="527.2" y="2718.0"/><use href="#o" x="451.1" y="2734.3"/><use href="#o" x="464.0" y="2719.0"/><use href="#o" x="546.3" y="2740.1"/><use href="#b" x="480.3" y="2747.3"/><use href="#b" x="583.0" y="2745.2"/><use href="#b" x="525.2" y="2758.1"/><use href="#b" x="520.1" y="2778.2"/><use href="#o" x="435.1" y="2759.8"/><use href="#o" x="368.1" y="2762.6"/><use href="#o" x="370.8" y="2763.2"/><use href="#b" x="735.1" y="2748.6"/><use href="#o" x="735.1" y="2747.3"/><use href="#b" x="796.0" y="2766.0"/><use href="#b" x="571.1" y="2796.9"/><use href="#b" x="475.2" y="2806.1"/><use href="#b" x="470.1" y="2822.8"/><use href="#b" x="351.1" y="2813.2"/><use href="#b" x="593.2" y="2813.2"/><use href="#b" x="618.4" y="2806.4"/><use href="#b" x="619.8" y="2807.8"/><use href="#b" x="693.2" y="2802.4"/><use href="#o" x="689.1" y="2814.3"/><use href="#o" x="500.0" y="2818.0"/><use href="#o" x="525.2" y="2817.0"/><use href="#o" x="565.3" y="2828.2"/><use href="#o" x="642.2" y="2822.1"/><use href="#o" x="751.1" y="2811.9"/><use href="#o" x="766.0" y="2805.8"/><use href="#o" x="785.1" y="2810.2"/><use href="#o" x="766.0" y="2833.0"/><use href="#o" x="775.2" y="2833.0"/><use href="#o" x="438.1" y="2831.3"/><use href="#o" x="441.2" y="2838.1"/><use href="#o" x="416.0" y="2847.3"/><use href="#b" x="342.2" y="2857.1"/><use href="#b" x="295.3" y="2873.1"/><use href="#o" x="476.9" y="2856.8"/><use href="#o" x="483.4" y="2848.6"/><use href="#o" x="484.7" y="2850.0"/><use href="#o" x="548.3" y="2853.4"/><use href="#o" x="546.6" y="2858.5"/><use href="#b" x="582.3" y="2853.4"/><use href="#b" x="595.3" y="2856.1"/><use href="#o" x="570.1" y="2865.3"/><use href="#o" x="672.1" y="2855.1"/><use href="#o" x="660.2" y="2869.0"/><use href="#o" x="751.1" y="2852.0"/><use href="#b" x="770.1" y="2856.8"/><use href="#b" x="791.2" y="2859.2"/><use href="#o" x="733.0" y="2867.0"/><use href="#o" x="446.3" y="2868.0"/><use href="#o" x="463.3" y="2880.6"/><use href="#o" x="465.0" y="2887.4"/><use href="#o" x="611.3" y="2873.8"/><use href="#o" x="609.6" y="2877.2"/><use href="#o" x="786.4" y="2872.1"/><use href="#o" x="789.8" y="2889.1"/><use href="#o" x="779.6" y="2882.3"/><use href="#b" x="752.4" y="2883.3"/><use href="#o" x="755.8" y="2897.6"/><use href="#o" x="527.9" y="2880.6"/><use href="#o" x="551.7" y="2883.3"/><use href="#o" x="524.5" y="2890.8"/><use href="#o" x="533.0" y="2894.2"/><use href="#o" x="643.2" y="2892.5"/><use href="#o" x="655.1" y="2905.1"/><use href="#b" x="565.3" y="2894.2"/><use href="#o" x="575.5" y="2906.1"/><use href="#o" x="565.3" y="2912.9"/><use href="#o" x="546.6" y="2901.0"/><use href="#o" x="391.2" y="2899.3"/><use href="#o" x="448.0" y="2899.3"/><use href="#o" x="477.9" y="2895.9"/><use href="#b" x="504.1" y="2912.9"/><use href="#o" x="497.3" y="2904.4"/><use href="#b" x="418.1" y="2911.2"/><use href="#b" x="403.8" y="2916.3"/><use href="#o" x="441.2" y="2916.3"/><use href="#o" x="418.1" y="2923.1"/><use href="#b" x="432.7" y="2941.8"/><use href="#o" x="438.1" y="2933.3"/><use href="#b" x="363.0" y="2921.4"/><use href="#b" x="368.1" y="2928.2"/><use href="#o" x="383.0" y="2944.2"/><use href="#o" x="340.2" y="2952.0"/><use href="#b" x="510.9" y="2919.7"/><use href="#b" x="542.2" y="2911.2"/><use href="#o" x="486.1" y="2919.7"/><use href="#o" x="497.3" y="2928.2"/><use href="#o" x="522.1" y="2918.0"/><use href="#o" x="606.2" y="2909.5"/><use href="#o" x="618.1" y="2910.2"/><use href="#b" x="594.3" y="2924.1"/><use href="#b" x="575.5" y="2931.6"/><use href="#o" x="567.0" y="2926.5"/><use href="#o" x="541.5" y="2933.3"/><use href="#o" x="546.6" y="2945.2"/><use href="#o" x="645.3" y="2929.9"/><use href="#o" x="658.9" y="2934.3"/><use href="#b" x="682.7" y="2943.5"/><use href="#o" x="681.0" y="2940.1"/><use href="#o" x="664.0" y="2952.0"/><use href="#o" x="657.2" y="2948.6"/><use href="#o" x="776.2" y="2911.2"/><use href="#b" x="752.4" y="2919.7"/><use href="#o" x="755.8" y="2924.8"/><use href="#o" x="805.1" y="2921.4"/><use href="#o" x="811.9" y="2928.2"/><use href="#o" x="806.8" y="2943.5"/><use href="#b" x="732.0" y="2940.1"/><use href="#o" x="724.2" y="2947.9"/><use href="#b" x="763.3" y="2962.2"/><use href="#o" x="783.0" y="2958.8"/><use href="#o" x="697.0" y="2962.2"/><use href="#b" x="461.6" y="2946.9"/><use href="#b" x="473.5" y="2948.6"/><use href="#o" x="483.7" y="2941.8"/><use href="#o" x="465.0" y="2962.2"/><use href="#o" x="565.3" y="2948.6"/><use href="#o" x="575.5" y="2955.4"/><use href="#o" x="555.1" y="2965.6"/><use href="#o" x="1280.3" y="2667.3"/><use href="#o" x="939.1" y="2751.3"/><use href="#o" x="838.1" y="2776.2"/><use href="#b" x="886.1" y="2774.1"/><use href="#b" x="919.1" y="2805.1"/><use href="#o" x="897.3" y="2798.3"/><use href="#o" x="1005.1" y="2798.3"/><use href="#o" x="1197.3" y="2783.0"/><use href="#b" x="835.4" y="2830.9"/><use href="#b" x="983.0" y="2821.1"/><use href="#o" x="1137.1" y="2828.2"/><use href="#o" x="1216.4" y="2823.1"/><use href="#o" x="967.0" y="2851.0"/><use href="#o" x="884.0" y="2869.0"/><use href="#o" x="1069.1" y="2882.3"/><use href="#o" x="834.4" y="2877.2"/><use href="#o" x="849.0" y="2886.7"/><use href="#o" x="827.2" y="2894.2"/><use href="#o" x="825.2" y="2885.7"/><use href="#b" x="848.0" y="2909.2"/><use href="#o" x="870.1" y="2902.0"/><use href="#b" x="948.3" y="2898.3"/><use href="#o" x="949.0" y="2901.0"/><use href="#o" x="994.3" y="2902.0"/><use href="#o" x="996.3" y="2921.4"/><use href="#o" x="837.1" y="2935.0"/><use href="#o" x="851.1" y="2932.3"/><use href="#o" x="821.8" y="2941.8"/><use href="#o" x="894.3" y="2932.3"/><use href="#b" x="842.2" y="2968.0"/><use href="#b" x="894.3" y="2962.2"/><use href="#b" x="983.0" y="2965.6"/><use href="#b" x="342.9" y="3026.5"/><use href="#b" x="393.2" y="3018.3"/><use href="#b" x="385.1" y="3071.7"/><use href="#b" x="434.4" y="2979.2"/><use href="#b" x="435.4" y="3005.4"/><use href="#b" x="479.6" y="2974.8"/><use href="#b" x="571.1" y="3047.9"/><use href="#b" x="599.4" y="3039.4"/><use href="#b" x="602.1" y="3050.7"/><use href="#b" x="603.4" y="3052.0"/><use href="#b" x="638.5" y="3054.7"/><use href="#b" x="516.0" y="3076.8"/><use href="#b" x="519.4" y="3092.1"/><use href="#b" x="578.9" y="3087.0"/><use href="#b" x="613.6" y="3099.0"/><use href="#b" x="592.6" y="2978.2"/><use href="#b" x="594.3" y="2985.0"/><use href="#b" x="647.0" y="3002.0"/><use href="#b" x="679.3" y="2985.0"/><use href="#b" x="667.4" y="2995.2"/><use href="#b" x="759.2" y="2985.0"/><use href="#b" x="732.0" y="2993.5"/><use href="#b" x="520.1" y="3146.6"/><use href="#b" x="428.3" y="3173.1"/><use href="#b" x="546.3" y="3195.9"/><use href="#b" x="626.2" y="3207.1"/><use href="#b" x="542.2" y="3228.2"/><use href="#b" x="664.0" y="3216.3"/><use href="#b" x="744.3" y="3193.2"/><use href="#b" x="718.1" y="3119.0"/><use href="#b" x="726.2" y="3158.5"/><use href="#b" x="743.9" y="3054.7"/><use href="#o" x="352.1" y="3003.7"/><use href="#o" x="374.9" y="3012.2"/><use href="#o" x="385.1" y="3003.0"/><use href="#o" x="412.3" y="3012.2"/><use href="#o" x="386.1" y="3048.3"/><use href="#o" x="418.1" y="3060.9"/><use href="#o" x="432.7" y="3043.5"/><use href="#o" x="438.1" y="3029.2"/><use href="#o" x="458.2" y="3019.0"/><use href="#o" x="467.0" y="2996.9"/><use href="#o" x="445.3" y="3003.0"/><use href="#o" x="453.1" y="2974.8"/><use href="#o" x="493.2" y="2975.8"/><use href="#o" x="494.6" y="2977.2"/><use href="#o" x="507.5" y="2981.6"/><use href="#o" x="495.6" y="2993.5"/><use href="#o" x="509.2" y="2998.6"/><use href="#o" x="488.8" y="3021.7"/><use href="#o" x="497.3" y="3034.3"/><use href="#o" x="494.9" y="3040.4"/><use href="#o" x="496.3" y="3041.8"/><use href="#o" x="530.6" y="3013.2"/><use href="#o" x="532.0" y="3014.6"/><use href="#o" x="546.6" y="3002.0"/><use href="#o" x="551.7" y="3008.8"/><use href="#o" x="536.4" y="3039.4"/><use href="#o" x="550.0" y="3041.1"/><use href="#o" x="549.4" y="2974.1"/><use href="#o" x="550.7" y="2975.5"/><use href="#o" x="565.3" y="2979.9"/><use href="#o" x="576.6" y="2980.9"/><use href="#o" x="577.9" y="2982.3"/><use href="#o" x="597.7" y="2996.9"/><use href="#o" x="601.1" y="3002.0"/><use href="#o" x="602.1" y="3015.6"/><use href="#o" x="628.3" y="2974.8"/><use href="#o" x="647.0" y="2973.1"/><use href="#o" x="635.1" y="2991.8"/><use href="#o" x="653.8" y="3020.7"/><use href="#o" x="651.4" y="3032.6"/><use href="#o" x="628.3" y="3025.8"/><use href="#o" x="628.3" y="3041.1"/><use href="#o" x="630.0" y="3054.7"/><use href="#o" x="674.2" y="3002.0"/><use href="#o" x="698.0" y="3000.3"/><use href="#o" x="713.3" y="2988.4"/><use href="#o" x="725.2" y="2976.5"/><use href="#o" x="737.1" y="2986.7"/><use href="#o" x="745.6" y="2998.6"/><use href="#o" x="718.4" y="3015.6"/><use href="#o" x="723.5" y="3017.3"/><use href="#o" x="783.0" y="2978.2"/><use href="#o" x="675.9" y="3036.0"/><use href="#o" x="682.7" y="3041.1"/><use href="#o" x="692.9" y="3027.5"/><use href="#o" x="686.1" y="3054.7"/><use href="#o" x="747.3" y="3051.3"/><use href="#o" x="766.0" y="3059.2"/><use href="#o" x="517.7" y="3059.2"/><use href="#o" x="532.3" y="3064.3"/><use href="#o" x="533.7" y="3065.6"/><use href="#o" x="527.9" y="3071.7"/><use href="#o" x="401.1" y="3080.2"/><use href="#o" x="405.5" y="3087.7"/><use href="#o" x="592.6" y="3070.0"/><use href="#o" x="601.1" y="3078.5"/><use href="#o" x="618.1" y="3064.9"/><use href="#o" x="626.6" y="3081.9"/><use href="#o" x="618.1" y="3087.0"/><use href="#o" x="658.9" y="3066.6"/><use href="#o" x="657.2" y="3078.5"/><use href="#o" x="655.5" y="3087.0"/><use href="#o" x="674.2" y="3068.3"/><use href="#o" x="697.0" y="3070.0"/><use href="#o" x="703.1" y="3090.4"/><use href="#o" x="695.3" y="3102.4"/><use href="#o" x="718.4" y="3080.2"/><use href="#o" x="721.1" y="3087.0"/><use href="#o" x="746.6" y="3077.9"/><use href="#o" x="748.0" y="3079.2"/><use href="#o" x="755.8" y="3083.6"/><use href="#o" x="750.0" y="3100.0"/><use href="#o" x="482.0" y="3094.5"/><use href="#o" x="488.1" y="3091.1"/><use href="#o" x="554.5" y="3086.4"/><use href="#o" x="555.8" y="3087.7"/><use href="#o" x="556.8" y="3090.4"/><use href="#o" x="551.7" y="3097.3"/><use href="#o" x="522.1" y="3104.1"/><use href="#o" x="575.5" y="3110.9"/><use href="#o" x="587.4" y="3110.2"/><use href="#o" x="642.9" y="3110.2"/><use href="#o" x="644.3" y="3111.5"/><use href="#o" x="653.8" y="3114.9"/><use href="#o" x="660.6" y="3119.4"/><use href="#o" x="680.3" y="3118.3"/><use href="#o" x="769.4" y="3102.4"/><use href="#o" x="778.9" y="3110.2"/><use href="#o" x="780.3" y="3111.5"/><use href="#o" x="774.5" y="3122.8"/><use href="#o" x="793.2" y="3126.8"/><use href="#o" x="385.1" y="3122.1"/><use href="#o" x="466.0" y="3116.0"/><use href="#o" x="473.5" y="3127.2"/><use href="#o" x="500.0" y="3127.2"/><use href="#o" x="497.3" y="3134.7"/><use href="#o" x="482.0" y="3139.8"/><use href="#o" x="481.3" y="3148.3"/><use href="#o" x="608.2" y="3127.9"/><use href="#o" x="651.4" y="3134.7"/><use href="#o" x="628.3" y="3143.2"/><use href="#o" x="627.2" y="3155.1"/><use href="#o" x="687.8" y="3146.6"/><use href="#o" x="670.8" y="3156.8"/><use href="#o" x="733.0" y="3137.0"/><use href="#o" x="726.9" y="3151.7"/><use href="#o" x="747.3" y="3163.6"/><use href="#o" x="540.2" y="3140.1"/><use href="#o" x="568.7" y="3146.6"/><use href="#o" x="588.1" y="3144.2"/><use href="#o" x="559.6" y="3151.0"/><use href="#o" x="560.9" y="3152.4"/><use href="#o" x="572.1" y="3158.5"/><use href="#o" x="555.1" y="3163.6"/><use href="#o" x="440.2" y="3142.1"/><use href="#o" x="431.0" y="3159.2"/><use href="#o" x="396.3" y="3165.3"/><use href="#o" x="456.2" y="3169.4"/><use href="#o" x="466.0" y="3184.3"/><use href="#o" x="615.0" y="3175.1"/><use href="#o" x="802.1" y="3160.2"/><use href="#o" x="796.0" y="3171.4"/><use href="#o" x="692.2" y="3185.7"/><use href="#o" x="689.1" y="3197.6"/><use href="#o" x="658.2" y="3198.6"/><use href="#o" x="715.0" y="3195.2"/><use href="#o" x="737.1" y="3218.0"/><use href="#o" x="738.1" y="3233.3"/><use href="#o" x="522.1" y="3225.5"/><use href="#o" x="575.5" y="3246.9"/><use href="#o" x="592.2" y="3262.2"/><use href="#o" x="746.3" y="3269.4"/><use href="#o" x="611.3" y="3299.0"/><use href="#o" x="750.0" y="3323.1"/><use href="#o" x="593.2" y="3333.0"/><use href="#o" x="634.0" y="3366.0"/><use href="#o" x="879.3" y="2974.8"/><use href="#o" x="915.3" y="2973.1"/><use href="#o" x="920.1" y="2996.9"/><use href="#o" x="928.3" y="2986.7"/><use href="#b" x="823.2" y="2996.2"/><use href="#o" x="833.4" y="2997.3"/><use href="#b" x="863.0" y="3030.2"/><use href="#b" x="964.3" y="3021.1"/><use href="#o" x="979.3" y="3013.9"/><use href="#o" x="1007.2" y="3011.2"/><use href="#o" x="1012.3" y="3019.0"/><use href="#o" x="1029.3" y="3031.3"/><use href="#o" x="1103.1" y="3010.2"/><use href="#b" x="917.0" y="3050.0"/><use href="#o" x="816.7" y="3049.6"/><use href="#o" x="820.1" y="3059.8"/><use href="#o" x="892.2" y="3059.2"/><use href="#o" x="895.3" y="3070.0"/><use href="#b" x="964.3" y="3083.6"/><use href="#o" x="959.2" y="3072.1"/><use href="#o" x="990.2" y="3071.1"/><use href="#o" x="911.3" y="3085.3"/><use href="#o" x="940.2" y="3085.3"/><use href="#o" x="879.3" y="3093.2"/><use href="#o" x="891.5" y="3085.3"/><use href="#o" x="883.0" y="3109.2"/><use href="#o" x="890.2" y="3118.0"/><use href="#b" x="1044.3" y="3100.0"/><use href="#o" x="1062.3" y="3093.9"/><use href="#o" x="1063.3" y="3104.1"/><use href="#o" x="1067.0" y="3096.6"/><use href="#o" x="1081.3" y="3111.2"/><use href="#o" x="838.1" y="3120.0"/><use href="#b" x="865.0" y="3119.4"/><use href="#o" x="864.3" y="3121.7"/><use href="#b" x="996.3" y="3127.9"/><use href="#o" x="1172.1" y="3131.3"/><use href="#b" x="835.4" y="3144.9"/><use href="#o" x="834.4" y="3161.9"/><use href="#o" x="846.3" y="3171.1"/><use href="#o" x="860.2" y="3180.2"/><use href="#o" x="961.3" y="3148.3"/><use href="#o" x="984.0" y="3150.0"/><use href="#b" x="900.0" y="3162.2"/><use href="#b" x="943.2" y="3165.3"/><use href="#o" x="961.3" y="3166.0"/><use href="#o" x="821.8" y="3185.7"/><use href="#o" x="894.3" y="3204.1"/><use href="#o" x="854.1" y="3241.1"/><use href="#o" x="892.2" y="3241.1"/><use href="#o" x="1005.1" y="3307.1"/></g>
<path d="M245.6 2435.3V3410.3H1329.6" class="sp"/>
<path d="M354.1 3410.3v14.58M505.8 3410.3v14.58M657.5 3410.3v14.58M809.2 3410.3v14.58M960.9 3410.3v14.58M1112.6 3410.3v14.58M1264.3 3410.3v14.58M245.6 2449.3h-14.58M245.6 2616.7h-14.58M245.6 2784.1h-14.58M245.6 2951.5h-14.58M245.6 3118.9h-14.58M245.6 3286.3h-14.58" class="tk"/>
<g><use href="#o" x="1952.0" y="2479.2"/><use href="#o" x="1744.2" y="2495.2"/><use href="#o" x="1941.2" y="2540.1"/><use href="#b" x="1708.2" y="2545.2"/><use href="#b" x="1860.2" y="2553.0"/><use href="#o" x="1866.0" y="2564.3"/><use href="#o" x="1580.3" y="2610.2"/><use href="#b" x="1783.3" y="2592.1"/><use href="#o" x="1837.1" y="2594.2"/><use href="#b" x="1854.1" y="2613.2"/><use href="#o" x="1871.1" y="2617.3"/><use href="#o" x="1886.1" y="2619.0"/><use href="#b" x="1780.3" y="2628.2"/><use href="#b" x="2077.2" y="2631.3"/><use href="#b" x="1835.0" y="2646.6"/><use href="#o" x="1849.3" y="2641.1"/><use href="#o" x="1830.3" y="2656.1"/><use href="#o" x="1931.3" y="2652.4"/><use href="#b" x="1739.1" y="2657.1"/><use href="#b" x="2010.2" y="2663.2"/><use href="#o" x="1911.2" y="2668.3"/><use href="#o" x="1811.2" y="2674.1"/><use href="#b" x="1787.1" y="2681.3"/><use href="#o" x="1658.2" y="2682.3"/><use href="#o" x="1891.2" y="2690.1"/><use href="#o" x="1834.0" y="2699.3"/><use href="#o" x="1861.2" y="2704.1"/><use href="#b" x="2017.0" y="2701.3"/><use href="#b" x="2018.0" y="2717.3"/><use href="#o" x="1953.1" y="2709.2"/><use href="#o" x="1945.2" y="2721.4"/><use href="#b" x="1715.3" y="2723.1"/><use href="#o" x="1722.1" y="2717.3"/><use href="#o" x="1741.2" y="2722.1"/><use href="#o" x="1729.3" y="2742.1"/><use href="#o" x="1601.0" y="2739.1"/><use href="#o" x="1870.1" y="2732.3"/><use href="#o" x="1907.1" y="2742.1"/><use href="#o" x="1989.1" y="2747.3"/><use href="#o" x="2038.1" y="2740.1"/><use href="#o" x="2034.0" y="2753.0"/><use href="#o" x="2066.0" y="2738.1"/><use href="#o" x="2019.4" y="2762.2"/><use href="#b" x="1794.2" y="2754.1"/><use href="#o" x="1795.9" y="2757.1"/><use href="#o" x="1922.1" y="2765.3"/><use href="#b" x="1721.1" y="2775.1"/><use href="#o" x="1834.0" y="2769.0"/><use href="#o" x="1859.2" y="2770.0"/><use href="#o" x="1875.2" y="2768.3"/><use href="#o" x="1881.0" y="2781.3"/><use href="#b" x="1993.2" y="2778.5"/><use href="#o" x="1989.1" y="2788.7"/><use href="#o" x="1986.4" y="2797.3"/><use href="#o" x="1982.0" y="2804.1"/><use href="#o" x="2017.0" y="2780.2"/><use href="#o" x="2034.0" y="2786.0"/><use href="#o" x="1783.3" y="2785.3"/><use href="#o" x="1699.3" y="2789.1"/><use href="#o" x="1843.2" y="2794.2"/><use href="#o" x="1860.5" y="2790.4"/><use href="#o" x="1873.1" y="2794.2"/><use href="#o" x="1794.2" y="2807.1"/><use href="#o" x="1906.1" y="2805.1"/><use href="#o" x="2022.1" y="2809.2"/><use href="#o" x="2051.0" y="2809.2"/><use href="#o" x="2056.1" y="2810.9"/><use href="#o" x="2095.2" y="2811.2"/><use href="#o" x="1769.0" y="2813.2"/><use href="#o" x="1709.2" y="2814.3"/><use href="#o" x="1828.2" y="2814.3"/><use href="#o" x="1831.6" y="2817.7"/><use href="#o" x="1840.1" y="2819.4"/><use href="#o" x="1849.3" y="2822.1"/><use href="#o" x="1874.1" y="2827.2"/><use href="#b" x="1949.0" y="2818.0"/><use href="#b" x="1909.9" y="2831.3"/><use href="#b" x="1945.6" y="2831.3"/><use href="#o" x="1922.1" y="2815.3"/><use href="#o" x="1941.2" y="2824.5"/><use href="#b" x="1608.2" y="2822.1"/><use href="#o" x="1738.1" y="2832.3"/><use href="#b" x="1763.6" y="2838.1"/><use href="#o" x="1767.0" y="2829.6"/><use href="#o" x="1786.1" y="2836.4"/><use href="#o" x="1819.0" y="2841.5"/><use href="#o" x="1823.1" y="2850.0"/><use href="#o" x="1957.1" y="2845.2"/><use href="#b" x="1935.4" y="2851.7"/><use href="#b" x="1922.1" y="2856.1"/><use href="#o" x="1907.1" y="2853.0"/><use href="#o" x="1989.1" y="2849.3"/><use href="#o" x="2001.0" y="2841.5"/><use href="#b" x="2031.3" y="2842.5"/><use href="#b" x="2054.4" y="2829.6"/><use href="#o" x="2054.4" y="2821.1"/><use href="#o" x="2034.0" y="2856.1"/><use href="#o" x="2051.0" y="2856.8"/><use href="#o" x="1690.1" y="2863.9"/><use href="#o" x="1771.1" y="2867.0"/><use href="#o" x="1777.2" y="2860.2"/><use href="#o" x="1802.7" y="2867.0"/><use href="#o" x="1811.2" y="2872.1"/><use href="#o" x="1817.0" y="2877.2"/><use href="#o" x="2019.4" y="2871.1"/><use href="#b" x="2054.4" y="2875.5"/><use href="#o" x="2059.5" y="2882.3"/><use href="#o" x="2068.0" y="2882.3"/><use href="#o" x="1610.2" y="2881.3"/><use href="#o" x="1707.1" y="2879.2"/><use href="#o" x="1867.3" y="2878.2"/><use href="#o" x="1850.3" y="2882.3"/><use href="#o" x="1845.2" y="2885.7"/><use href="#o" x="1912.2" y="2888.1"/><use href="#o" x="1896.3" y="2892.5"/><use href="#o" x="1954.1" y="2887.4"/><use href="#b" x="1959.2" y="2902.7"/><use href="#o" x="1963.3" y="2901.0"/><use href="#o" x="1669.0" y="2897.3"/><use href="#o" x="1788.1" y="2900.0"/><use href="#o" x="1881.0" y="2900.3"/><use href="#o" x="1894.6" y="2902.7"/><use href="#o" x="1903.1" y="2911.2"/><use href="#o" x="1820.1" y="2906.1"/><use href="#b" x="1757.1" y="2907.8"/><use href="#o" x="2095.2" y="2900.0"/><use href="#o" x="1634.0" y="2918.0"/><use href="#o" x="1676.9" y="2920.0"/><use href="#o" x="1701.0" y="2918.0"/><use href="#o" x="1702.0" y="2921.4"/><use href="#o" x="1798.0" y="2920.0"/><use href="#b" x="1757.1" y="2924.8"/><use href="#o" x="1777.2" y="2918.0"/><use href="#o" x="1772.1" y="2923.1"/><use href="#o" x="1737.1" y="2928.2"/><use href="#o" x="1765.3" y="2931.6"/><use href="#o" x="1778.9" y="2933.3"/><use href="#o" x="1862.2" y="2921.4"/><use href="#o" x="1871.1" y="2933.3"/><use href="#b" x="1921.1" y="2927.2"/><use href="#o" x="1969.4" y="2929.9"/><use href="#o" x="1960.9" y="2933.3"/><use href="#b" x="2006.1" y="2933.3"/><use href="#o" x="1991.2" y="2929.9"/><use href="#o" x="2028.2" y="2931.6"/><use href="#o" x="2071.1" y="2929.9"/><use href="#o" x="1620.1" y="2943.2"/><use href="#o" x="1684.0" y="2940.1"/><use href="#o" x="1758.5" y="2941.8"/><use href="#o" x="1841.2" y="2938.1"/><use href="#o" x="1908.2" y="2943.5"/><use href="#o" x="1899.7" y="2946.9"/><use href="#o" x="1887.8" y="2953.7"/><use href="#b" x="1925.2" y="2952.0"/><use href="#o" x="1931.3" y="2951.0"/><use href="#b" x="1960.9" y="2962.2"/><use href="#o" x="1979.6" y="2953.7"/><use href="#o" x="1971.1" y="2962.2"/><use href="#o" x="2043.2" y="2955.4"/><use href="#o" x="2040.8" y="2962.2"/><use href="#o" x="1687.1" y="2962.2"/><use href="#o" x="1765.3" y="2962.2"/><use href="#o" x="1784.0" y="2962.2"/><use href="#o" x="1792.5" y="2962.2"/><use href="#o" x="1829.3" y="2963.9"/><use href="#o" x="1921.8" y="2968.0"/><use href="#o" x="2138.1" y="2583.3"/><use href="#b" x="2331.3" y="2569.0"/><use href="#o" x="2352.0" y="2575.1"/><use href="#b" x="2274.1" y="2670.4"/><use href="#o" x="2359.2" y="2692.1"/><use href="#o" x="2565.3" y="2689.1"/><use href="#o" x="2240.1" y="2730.9"/><use href="#o" x="2144.2" y="2752.4"/><use href="#o" x="2226.2" y="2759.2"/><use href="#b" x="2184.0" y="2773.1"/><use href="#b" x="2161.2" y="2791.1"/><use href="#o" x="2121.1" y="2810.2"/><use href="#o" x="2145.2" y="2811.9"/><use href="#o" x="2282.0" y="2801.7"/><use href="#o" x="2293.2" y="2810.2"/><use href="#o" x="2435.0" y="2799.0"/><use href="#o" x="2340.1" y="2824.8"/><use href="#b" x="2187.1" y="2850.0"/><use href="#b" x="2190.1" y="2881.9"/><use href="#b" x="2234.0" y="2885.0"/><use href="#b" x="2361.2" y="2875.1"/><use href="#o" x="2116.0" y="2904.1"/><use href="#b" x="2328.2" y="2917.0"/><use href="#o" x="2409.2" y="2924.1"/><use href="#o" x="2350.0" y="2939.1"/><use href="#b" x="2200.0" y="2944.2"/><use href="#o" x="2202.0" y="2933.3"/><use href="#o" x="2117.0" y="2943.5"/><use href="#b" x="2139.1" y="2948.6"/><use href="#b" x="2155.1" y="2959.5"/><use href="#o" x="2105.1" y="2958.8"/><use href="#o" x="1624.1" y="2976.5"/><use href="#o" x="1660.2" y="3003.0"/><use href="#o" x="1715.3" y="2990.1"/><use href="#b" x="1701.0" y="3001.0"/><use href="#o" x="1700.0" y="3002.0"/><use href="#o" x="1696.3" y="3022.4"/><use href="#o" x="1733.0" y="3033.3"/><use href="#o" x="1752.0" y="3017.3"/><use href="#o" x="1746.3" y="3000.3"/><use href="#o" x="1750.0" y="2985.0"/><use href="#o" x="1763.6" y="2976.5"/><use href="#o" x="1771.1" y="2986.7"/><use href="#o" x="1793.2" y="2976.5"/><use href="#b" x="1788.4" y="3009.8"/><use href="#b" x="1789.8" y="3011.2"/><use href="#o" x="1802.7" y="3013.9"/><use href="#o" x="1778.9" y="3032.6"/><use href="#o" x="1828.2" y="2982.3"/><use href="#o" x="1835.0" y="3005.4"/><use href="#o" x="1840.1" y="3010.5"/><use href="#o" x="1861.2" y="2996.9"/><use href="#o" x="1882.3" y="2992.5"/><use href="#o" x="1874.1" y="3013.9"/><use href="#o" x="1869.0" y="3017.3"/><use href="#o" x="1860.5" y="3025.8"/><use href="#o" x="1841.2" y="3030.2"/><use href="#b" x="1916.7" y="2994.2"/><use href="#o" x="1924.1" y="2985.0"/><use href="#o" x="1925.2" y="2981.6"/><use href="#o" x="1949.0" y="2987.7"/><use href="#o" x="1978.2" y="2985.0"/><use href="#o" x="2005.1" y="2971.4"/><use href="#o" x="2047.6" y="2973.1"/><use href="#b" x="2035.0" y="3002.0"/><use href="#o" x="2011.2" y="3011.2"/><use href="#o" x="2069.0" y="2993.5"/><use href="#o" x="2077.2" y="3005.4"/><use href="#b" x="2088.4" y="2983.3"/><use href="#o" x="2098.6" y="2998.6"/><use href="#o" x="1901.4" y="3030.9"/><use href="#o" x="1903.1" y="3036.0"/><use href="#o" x="1922.1" y="3027.2"/><use href="#o" x="1896.3" y="3047.9"/><use href="#o" x="1891.2" y="3059.8"/><use href="#o" x="1935.0" y="3047.3"/><use href="#o" x="1969.0" y="3041.1"/><use href="#b" x="1993.2" y="3041.1"/><use href="#o" x="1993.9" y="3036.0"/><use href="#b" x="2016.0" y="3034.3"/><use href="#o" x="2057.1" y="3041.1"/><use href="#b" x="1828.2" y="3053.0"/><use href="#b" x="1835.0" y="3054.7"/><use href="#o" x="1823.1" y="3054.7"/><use href="#o" x="1784.4" y="3063.2"/><use href="#o" x="1856.1" y="3066.6"/><use href="#o" x="1877.2" y="3065.3"/><use href="#o" x="1949.0" y="3066.0"/><use href="#b" x="1929.3" y="3076.2"/><use href="#b" x="1765.3" y="3080.2"/><use href="#o" x="1755.1" y="3085.3"/><use href="#o" x="1781.3" y="3087.7"/><use href="#o" x="1793.2" y="3099.0"/><use href="#o" x="1797.6" y="3104.1"/><use href="#b" x="1836.1" y="3085.3"/><use href="#o" x="1865.0" y="3088.1"/><use href="#b" x="1995.2" y="3086.0"/><use href="#o" x="1908.2" y="3097.3"/><use href="#o" x="1957.1" y="3105.1"/><use href="#o" x="1949.0" y="3107.5"/><use href="#o" x="1972.1" y="3108.1"/><use href="#o" x="2054.4" y="3100.7"/><use href="#b" x="1854.1" y="3112.6"/><use href="#b" x="1880.3" y="3114.3"/><use href="#o" x="1875.2" y="3120.4"/><use href="#o" x="1827.2" y="3117.7"/><use href="#b" x="2037.1" y="3121.1"/><use href="#o" x="1946.3" y="3126.2"/><use href="#o" x="2067.0" y="3135.0"/><use href="#o" x="1791.2" y="3141.5"/><use href="#o" x="1854.1" y="3139.1"/><use href="#b" x="1881.6" y="3139.8"/><use href="#o" x="1883.3" y="3145.9"/><use href="#o" x="1903.1" y="3151.7"/><use href="#o" x="1896.3" y="3163.6"/><use href="#b" x="1947.3" y="3144.9"/><use href="#o" x="1930.3" y="3147.3"/><use href="#o" x="1966.0" y="3142.1"/><use href="#o" x="2004.1" y="3144.9"/><use href="#o" x="1955.1" y="3163.6"/><use href="#o" x="2001.0" y="3162.2"/><use href="#o" x="2049.3" y="3171.1"/><use href="#o" x="1685.0" y="3149.3"/><use href="#o" x="1816.3" y="3173.1"/><use href="#b" x="1846.9" y="3169.4"/><use href="#o" x="1934.0" y="3193.2"/><use href="#o" x="2010.2" y="3209.2"/><use href="#o" x="2022.1" y="3231.3"/><use href="#o" x="2026.2" y="3246.2"/><use href="#o" x="1775.2" y="3236.0"/><use href="#b" x="1899.3" y="3238.1"/><use href="#o" x="1915.0" y="3254.1"/><use href="#o" x="2010.2" y="3266.3"/><use href="#o" x="1942.2" y="3277.2"/><use href="#b" x="1819.0" y="3283.3"/><use href="#b" x="1768.0" y="3323.1"/><use href="#b" x="1870.1" y="3366.0"/><use href="#b" x="2130.3" y="2976.5"/><use href="#b" x="2128.9" y="2993.5"/><use href="#o" x="2111.2" y="2997.9"/><use href="#o" x="2123.1" y="2997.9"/><use href="#o" x="2280.3" y="2997.3"/><use href="#o" x="2312.2" y="3026.2"/><use href="#o" x="2140.1" y="3046.2"/><use href="#o" x="2143.2" y="3037.0"/><use href="#b" x="2160.2" y="3060.2"/></g>
<path d="M1531.0 2435.3V3410.3H2615.0" class="sp"/>
<path d="M1636.1 3410.3v14.58M1890.1 3410.3v14.58M2144.1 3410.3v14.58M2398.1 3410.3v14.58M1531.0 2509.2h-14.58M1531.0 2700.9h-14.58M1531.0 2892.7h-14.58M1531.0 3084.4h-14.58M1531.0 3276.2h-14.58" class="tk"/>
<g><use href="#b" x="3075.1" y="3002.0"/><use href="#b" x="3136.3" y="2993.5"/><use href="#b" x="3145.9" y="3011.5"/><use href="#b" x="3147.2" y="3012.9"/><use href="#b" x="3206.1" y="2993.5"/><use href="#b" x="3264.9" y="2970.7"/><use href="#b" x="3266.3" y="2972.1"/><use href="#b" x="3264.9" y="2994.5"/><use href="#b" x="3266.3" y="2995.9"/><use href="#b" x="3265.6" y="3046.2"/><use href="#b" x="3081.9" y="3034.3"/><use href="#b" x="3126.1" y="3034.3"/><use href="#b" x="3071.7" y="3054.7"/><use href="#b" x="3023.4" y="3086.4"/><use href="#b" x="3024.8" y="3087.7"/><use href="#b" x="3027.5" y="3110.9"/><use href="#b" x="3074.4" y="3123.8"/><use href="#b" x="3075.8" y="3125.1"/><use href="#b" x="3064.9" y="3148.3"/><use href="#b" x="3255.4" y="3136.4"/><use href="#b" x="3163.6" y="3226.5"/><use href="#b" x="3202.7" y="3229.9"/><use href="#b" x="3252.0" y="3212.9"/><use href="#b" x="3272.4" y="3168.7"/><use href="#o" x="3188.3" y="3116.5"/><use href="#o" x="3141.8" y="2978.0"/><use href="#o" x="3058.3" y="3032.3"/><use href="#o" x="3204.4" y="3179.8"/><use href="#o" x="3258.6" y="3070.7"/><use href="#b" x="3150.6" y="3126.9"/><use href="#o" x="3077.8" y="3120.3"/><use href="#o" x="3237.3" y="3038.8"/><use href="#o" x="3155.0" y="3122.7"/><use href="#o" x="3222.4" y="3181.0"/><use href="#o" x="3127.7" y="3056.1"/><use href="#o" x="3195.0" y="2971.5"/><use href="#o" x="3204.3" y="3092.1"/><use href="#o" x="3132.0" y="3011.7"/><use href="#o" x="3232.8" y="3048.3"/><use href="#o" x="3090.9" y="3109.1"/><use href="#o" x="3136.7" y="3055.4"/><use href="#o" x="3124.9" y="3007.1"/><use href="#o" x="3085.0" y="3011.9"/><use href="#o" x="3181.1" y="3202.3"/><use href="#o" x="3128.3" y="3080.5"/><use href="#b" x="3205.9" y="3235.2"/><use href="#o" x="3112.9" y="3048.4"/><use href="#o" x="3183.1" y="3075.6"/><use href="#o" x="3193.6" y="3053.4"/><use href="#o" x="3221.2" y="3043.3"/><use href="#o" x="3235.6" y="3120.1"/><use href="#o" x="3136.2" y="3072.8"/><use href="#o" x="3220.7" y="3112.7"/><use href="#o" x="3184.4" y="3149.3"/><use href="#o" x="3133.6" y="3120.7"/><use href="#o" x="3167.3" y="3122.9"/><use href="#o" x="3044.2" y="3011.3"/><use href="#o" x="3141.8" y="3122.2"/><use href="#o" x="3167.9" y="2965.2"/><use href="#o" x="3125.6" y="3011.6"/><use href="#o" x="3112.4" y="3041.2"/><use href="#o" x="3234.9" y="3185.1"/><use href="#o" x="3104.3" y="3099.7"/><use href="#o" x="3146.5" y="3219.9"/><use href="#o" x="3265.6" y="3116.3"/><use href="#o" x="3175.0" y="3111.8"/><use href="#o" x="3256.8" y="3172.5"/><use href="#o" x="3217.6" y="3101.9"/><use href="#o" x="3152.8" y="3217.8"/><use href="#o" x="3196.5" y="2976.9"/><use href="#b" x="3057.7" y="3152.4"/><use href="#o" x="3241.8" y="3123.3"/><use href="#o" x="3142.6" y="3041.8"/><use href="#o" x="3180.0" y="3160.2"/><use href="#o" x="3055.4" y="3091.7"/><use href="#o" x="3114.9" y="3058.4"/><use href="#o" x="3056.5" y="3145.2"/><use href="#o" x="3240.6" y="3132.0"/><use href="#o" x="3169.8" y="3138.3"/><use href="#o" x="3082.0" y="3180.7"/><use href="#o" x="3097.1" y="3059.1"/><use href="#o" x="3141.3" y="3116.1"/><use href="#o" x="3214.2" y="3147.2"/><use href="#o" x="3146.0" y="3090.7"/><use href="#o" x="3067.0" y="3156.3"/><use href="#o" x="3124.0" y="3086.4"/><use href="#o" x="3284.8" y="3170.0"/><use href="#o" x="3073.9" y="3067.2"/><use href="#o" x="3155.3" y="3018.8"/><use href="#o" x="3179.5" y="3128.2"/><use href="#o" x="3146.4" y="3086.3"/><use href="#o" x="3177.5" y="2969.7"/><use href="#o" x="3092.2" y="3177.4"/><use href="#o" x="3140.5" y="3207.3"/><use href="#o" x="3134.8" y="3163.1"/><use href="#o" x="3147.8" y="3193.7"/><use href="#o" x="3255.7" y="3048.8"/><use href="#o" x="3221.7" y="3149.3"/><use href="#b" x="3208.9" y="3174.3"/><use href="#o" x="3204.6" y="3155.6"/><use href="#o" x="3089.5" y="2991.1"/><use href="#o" x="3110.7" y="3097.8"/><use href="#o" x="3241.1" y="3162.3"/><use href="#o" x="3019.6" y="3136.3"/><use href="#o" x="3109.1" y="3082.9"/><use href="#o" x="3270.3" y="3125.0"/><use href="#o" x="3198.1" y="3196.1"/><use href="#o" x="3038.2" y="3179.4"/><use href="#o" x="3125.7" y="3011.6"/><use href="#o" x="3071.9" y="2983.2"/><use href="#o" x="3172.6" y="3221.1"/><use href="#o" x="3144.4" y="3094.3"/><use href="#b" x="3057.8" y="2977.4"/><use href="#o" x="3183.8" y="3078.1"/><use href="#o" x="3159.6" y="3047.6"/><use href="#o" x="3103.9" y="3075.5"/><use href="#o" x="3232.2" y="3193.2"/><use href="#o" x="3150.7" y="3213.9"/><use href="#o" x="3159.5" y="3107.0"/><use href="#o" x="3220.9" y="2997.7"/><use href="#o" x="3021.4" y="3116.0"/><use href="#b" x="3142.2" y="3204.0"/><use href="#o" x="3283.2" y="3172.5"/><use href="#o" x="3043.9" y="3176.1"/><use href="#o" x="3184.6" y="3069.5"/><use href="#o" x="3080.6" y="3168.4"/><use href="#o" x="3266.0" y="3111.1"/><use href="#o" x="3079.9" y="3182.7"/><use href="#o" x="3043.9" y="3114.8"/><use href="#o" x="3189.9" y="2985.4"/><use href="#o" x="3174.4" y="3072.4"/><use href="#o" x="3069.1" y="3170.1"/><use href="#o" x="3190.2" y="2989.7"/><use href="#o" x="3163.8" y="3197.6"/><use href="#o" x="3092.2" y="3159.8"/><use href="#o" x="3239.8" y="3148.0"/><use href="#o" x="3084.7" y="3129.2"/><use href="#o" x="3237.6" y="3060.7"/><use href="#o" x="3224.4" y="3071.7"/><use href="#o" x="3157.7" y="3159.0"/><use href="#o" x="3095.1" y="3160.9"/><use href="#o" x="3093.3" y="3040.3"/><use href="#o" x="3246.7" y="3059.0"/><use href="#o" x="3226.1" y="3094.8"/><use href="#o" x="3112.9" y="3032.6"/><use href="#o" x="3092.2" y="3180.9"/><use href="#o" x="3168.1" y="3118.6"/><use href="#o" x="3264.5" y="3007.6"/><use href="#o" x="3090.7" y="3087.5"/><use href="#o" x="3097.6" y="3148.5"/><use href="#o" x="3198.5" y="3164.2"/><use href="#o" x="3193.9" y="3130.5"/><use href="#o" x="3152.8" y="3192.9"/><use href="#o" x="3116.8" y="3157.5"/><use href="#o" x="3091.8" y="3054.7"/><use href="#o" x="3156.9" y="3073.9"/><use href="#o" x="3208.8" y="3031.4"/><use href="#o" x="3225.6" y="3180.7"/><use href="#o" x="3085.2" y="3049.6"/><use href="#o" x="3075.2" y="3164.4"/><use href="#o" x="3057.0" y="3038.9"/><use href="#o" x="3205.9" y="3025.3"/><use href="#o" x="3126.5" y="3100.0"/><use href="#o" x="3199.7" y="3102.7"/><use href="#o" x="3220.2" y="3138.0"/><use href="#o" x="3195.1" y="3106.3"/><use href="#o" x="3176.5" y="3146.5"/><use href="#o" x="3136.6" y="3082.1"/><use href="#o" x="3158.7" y="3201.4"/><use href="#b" x="3220.6" y="3180.9"/><use href="#o" x="3200.4" y="3011.0"/><use href="#o" x="3187.8" y="3071.1"/><use href="#o" x="3183.1" y="3135.2"/><use href="#o" x="3160.3" y="3131.4"/><use href="#o" x="3063.8" y="3185.8"/><use href="#o" x="3269.3" y="3027.5"/><use href="#o" x="3199.1" y="3078.8"/><use href="#o" x="3204.7" y="2995.3"/><use href="#o" x="3100.1" y="3153.8"/><use href="#o" x="3073.3" y="3141.6"/><use href="#o" x="3196.2" y="3002.8"/><use href="#o" x="3216.9" y="3099.0"/><use href="#b" x="3112.6" y="2985.8"/><use href="#o" x="3097.0" y="3085.8"/><use href="#o" x="3041.7" y="3045.2"/><use href="#o" x="3146.6" y="2971.8"/><use href="#o" x="3133.2" y="3090.3"/><use href="#o" x="3251.0" y="3180.1"/><use href="#o" x="3081.8" y="3119.9"/><use href="#o" x="3215.0" y="2986.0"/><use href="#o" x="3247.2" y="3040.6"/><use href="#o" x="3031.6" y="3172.8"/><use href="#o" x="3129.0" y="3067.5"/><use href="#o" x="3171.0" y="3178.7"/><use href="#o" x="3069.1" y="3169.0"/><use href="#o" x="3099.2" y="2964.1"/><use href="#o" x="3075.2" y="3126.1"/><use href="#o" x="3151.7" y="3159.4"/><use href="#o" x="3188.8" y="3193.5"/><use href="#o" x="3133.6" y="3152.4"/><use href="#o" x="3193.4" y="3057.6"/><use href="#o" x="3122.0" y="3037.6"/><use href="#b" x="3192.1" y="3042.8"/><use href="#o" x="3193.7" y="3063.0"/><use href="#o" x="3124.8" y="3163.4"/><use href="#o" x="3100.8" y="3180.5"/><use href="#o" x="3161.8" y="3089.9"/><use href="#o" x="3187.5" y="3139.8"/><use href="#o" x="3130.3" y="3126.0"/><use href="#o" x="3262.7" y="3041.3"/><use href="#o" x="3196.7" y="3162.4"/><use href="#o" x="3206.6" y="3078.4"/><use href="#o" x="3236.6" y="3023.3"/><use href="#o" x="3089.4" y="3094.7"/><use href="#o" x="3274.5" y="3151.8"/><use href="#o" x="3089.7" y="3045.5"/><use href="#o" x="3240.0" y="3088.4"/><use href="#o" x="3108.5" y="3144.6"/><use href="#o" x="3139.9" y="3078.9"/><use href="#o" x="3066.7" y="3163.4"/><use href="#o" x="3046.4" y="3097.4"/><use href="#o" x="3032.7" y="3039.4"/><use href="#o" x="3156.9" y="3122.8"/><use href="#o" x="3187.0" y="3138.2"/><use href="#o" x="3034.4" y="3076.5"/><use href="#o" x="3191.8" y="3090.1"/><use href="#o" x="3266.0" y="3169.6"/><use href="#o" x="3201.9" y="3160.6"/><use href="#o" x="3103.9" y="3165.3"/><use href="#o" x="3120.3" y="3079.1"/><use href="#o" x="3048.3" y="2988.2"/><use href="#o" x="3233.0" y="3116.5"/><use href="#o" x="3176.2" y="3078.2"/><use href="#o" x="3080.3" y="3046.3"/><use href="#b" x="3166.6" y="3055.0"/><use href="#o" x="3215.0" y="2991.5"/><use href="#o" x="3174.2" y="3090.3"/><use href="#b" x="3244.8" y="3177.6"/><use href="#b" x="3159.3" y="3158.9"/><use href="#o" x="3067.1" y="3160.2"/><use href="#o" x="3136.5" y="3081.3"/><use href="#o" x="3064.9" y="3089.1"/><use href="#o" x="3218.6" y="3168.1"/><use href="#o" x="3057.4" y="3059.3"/><use href="#o" x="3192.2" y="2987.1"/><use href="#o" x="3115.0" y="3079.2"/><use href="#o" x="3092.6" y="3076.6"/><use href="#o" x="3062.9" y="3123.8"/><use href="#o" x="3138.1" y="3090.1"/><use href="#o" x="3043.8" y="3071.4"/><use href="#o" x="3026.6" y="3133.9"/><use href="#o" x="3057.4" y="3083.6"/><use href="#o" x="3156.1" y="3015.4"/><use href="#o" x="3270.8" y="3019.7"/><use href="#o" x="3196.0" y="3093.2"/><use href="#o" x="3084.2" y="3038.2"/><use href="#o" x="3239.5" y="3086.9"/><use href="#o" x="3166.8" y="2973.4"/><use href="#o" x="3177.8" y="3028.9"/><use href="#o" x="3087.9" y="2998.3"/><use href="#o" x="3185.6" y="3022.8"/><use href="#o" x="3071.9" y="3067.0"/><use href="#o" x="3090.4" y="2993.4"/><use href="#o" x="3247.6" y="3127.5"/><use href="#o" x="3231.8" y="3075.4"/><use href="#o" x="3147.5" y="3051.0"/><use href="#o" x="3136.8" y="3135.0"/><use href="#b" x="3116.3" y="3117.0"/><use href="#o" x="3254.6" y="3122.9"/><use href="#o" x="3228.4" y="3128.1"/><use href="#o" x="3242.7" y="3018.3"/><use href="#o" x="3173.9" y="3219.4"/><use href="#o" x="3023.8" y="3047.2"/><use href="#o" x="3134.1" y="3203.0"/><use href="#o" x="3208.9" y="3097.7"/><use href="#o" x="3206.6" y="2978.0"/><use href="#o" x="3097.4" y="3071.8"/><use href="#o" x="3063.2" y="3051.0"/><use href="#o" x="3070.3" y="3157.8"/><use href="#o" x="3178.4" y="3155.2"/><use href="#o" x="3036.1" y="3004.4"/><use href="#b" x="3187.7" y="3232.5"/><use href="#o" x="3171.9" y="3155.4"/><use href="#o" x="3160.0" y="3093.5"/><use href="#o" x="3114.5" y="3208.2"/><use href="#o" x="3223.8" y="3039.6"/><use href="#o" x="3199.5" y="3122.6"/><use href="#o" x="3148.6" y="3123.5"/><use href="#o" x="3177.1" y="3189.4"/><use href="#o" x="3068.9" y="3054.8"/><use href="#o" x="3231.2" y="3122.8"/><use href="#o" x="3189.5" y="3154.5"/><use href="#o" x="3047.8" y="2988.8"/><use href="#o" x="3183.5" y="3064.0"/><use href="#o" x="3197.1" y="3111.8"/><use href="#o" x="3169.8" y="3004.5"/><use href="#o" x="3091.3" y="3052.1"/><use href="#o" x="3147.0" y="3048.2"/><use href="#o" x="3169.8" y="3106.1"/><use href="#o" x="3154.3" y="3057.9"/><use href="#b" x="3080.0" y="3112.7"/><use href="#o" x="3219.3" y="3056.6"/><use href="#o" x="3195.1" y="3163.7"/><use href="#o" x="3233.0" y="3031.7"/><use href="#o" x="3257.5" y="3056.8"/><use href="#o" x="3163.5" y="3180.2"/><use href="#o" x="3190.0" y="3188.1"/><use href="#o" x="3060.8" y="2969.9"/><use href="#o" x="3268.2" y="3048.2"/><use href="#o" x="3138.9" y="3083.1"/><use href="#o" x="3086.8" y="3165.7"/><use href="#o" x="3165.1" y="3170.3"/><use href="#o" x="3184.3" y="3083.7"/><use href="#o" x="3143.2" y="3051.8"/><use href="#o" x="3052.6" y="3011.8"/><use href="#o" x="3112.6" y="3196.6"/><use href="#o" x="3066.6" y="3128.1"/><use href="#o" x="3162.5" y="3181.7"/><use href="#o" x="3018.2" y="3049.5"/><use href="#o" x="3077.7" y="3078.0"/><use href="#o" x="3177.3" y="3146.9"/><use href="#b" x="3124.3" y="3189.2"/><use href="#o" x="3034.0" y="3165.2"/><use href="#o" x="3155.3" y="3108.8"/><use href="#o" x="3097.4" y="3154.5"/><use href="#o" x="3145.3" y="3170.5"/><use href="#o" x="3164.9" y="3206.1"/><use href="#o" x="3120.1" y="3186.3"/><use href="#o" x="3236.0" y="2982.7"/><use href="#o" x="3121.3" y="3211.2"/><use href="#o" x="3083.8" y="3070.1"/><use href="#o" x="3227.6" y="3042.3"/><use href="#o" x="3208.2" y="3018.7"/><use href="#o" x="3120.1" y="3065.9"/><use href="#o" x="3210.3" y="2976.9"/><use href="#o" x="3234.1" y="3039.1"/><use href="#o" x="3171.0" y="3131.8"/><use href="#o" x="3220.5" y="3183.5"/><use href="#o" x="3126.6" y="3049.9"/><use href="#o" x="3262.9" y="3132.9"/><use href="#o" x="3081.4" y="3083.3"/><use href="#o" x="3085.5" y="3103.3"/><use href="#o" x="3151.9" y="3123.3"/><use href="#o" x="3179.9" y="3174.8"/><use href="#b" x="3098.1" y="3115.1"/><use href="#o" x="3028.7" y="3147.7"/><use href="#o" x="3227.7" y="3126.1"/><use href="#o" x="3166.3" y="3186.7"/><use href="#o" x="3243.6" y="3202.1"/><use href="#o" x="3123.3" y="3060.2"/><use href="#b" x="3267.6" y="3081.3"/><use href="#o" x="3067.3" y="2987.0"/><use href="#o" x="3063.7" y="3030.2"/><use href="#o" x="3213.3" y="3106.7"/><use href="#o" x="3264.2" y="2479.2"/><use href="#b" x="3081.2" y="2528.2"/><use href="#o" x="3105.0" y="2616.3"/><use href="#o" x="3143.1" y="2683.0"/><use href="#o" x="3057.1" y="2705.4"/><use href="#o" x="3332.3" y="2710.2"/><use href="#o" x="3206.1" y="2734.3"/><use href="#o" x="3228.2" y="2748.3"/><use href="#o" x="2969.0" y="2750.3"/><use href="#o" x="2957.1" y="2775.1"/><use href="#o" x="3073.4" y="2779.2"/><use href="#o" x="3085.3" y="2777.2"/><use href="#o" x="3118.3" y="2776.2"/><use href="#o" x="3124.1" y="2794.2"/><use href="#b" x="2999.3" y="2786.0"/><use href="#o" x="3009.1" y="2794.9"/><use href="#o" x="3185.3" y="2788.1"/><use href="#o" x="3346.2" y="2773.1"/><use href="#o" x="3364.2" y="2790.1"/><use href="#o" x="3381.2" y="2783.0"/><use href="#o" x="2896.2" y="2803.0"/><use href="#o" x="2865.3" y="2816.0"/><use href="#o" x="3270.0" y="2802.0"/><use href="#o" x="3285.3" y="2825.1"/><use href="#b" x="3340.4" y="2827.2"/><use href="#o" x="3318.0" y="2821.1"/><use href="#o" x="3375.1" y="2817.0"/><use href="#o" x="3145.2" y="2822.1"/><use href="#o" x="3132.9" y="2839.1"/><use href="#b" x="3070.0" y="2839.1"/><use href="#b" x="3314.2" y="2839.8"/><use href="#b" x="3320.0" y="2856.1"/><use href="#o" x="2994.2" y="2851.0"/><use href="#o" x="3224.1" y="2850.0"/><use href="#o" x="3260.1" y="2851.0"/><use href="#o" x="3180.2" y="2858.1"/><use href="#b" x="3059.1" y="2865.3"/><use href="#o" x="3047.2" y="2862.2"/><use href="#o" x="3091.1" y="2869.0"/><use href="#o" x="3146.2" y="2866.3"/><use href="#o" x="3173.1" y="2876.2"/><use href="#b" x="3212.2" y="2872.1"/><use href="#o" x="3366.3" y="2869.0"/><use href="#b" x="2976.1" y="2881.3"/><use href="#b" x="3064.9" y="2878.9"/><use href="#o" x="3079.5" y="2884.3"/><use href="#o" x="3080.9" y="2885.7"/><use href="#o" x="3048.9" y="2889.1"/><use href="#o" x="3149.9" y="2888.1"/><use href="#o" x="3167.0" y="2894.2"/><use href="#b" x="3022.1" y="2895.2"/><use href="#o" x="3007.4" y="2895.2"/><use href="#o" x="3008.8" y="2896.6"/><use href="#o" x="2956.1" y="2899.3"/><use href="#b" x="3098.2" y="2900.0"/><use href="#o" x="3098.2" y="2900.3"/><use href="#b" x="3123.1" y="2898.3"/><use href="#b" x="3236.0" y="2898.3"/><use href="#o" x="3266.3" y="2904.1"/><use href="#o" x="3198.2" y="2905.1"/><use href="#o" x="3189.1" y="2912.9"/><use href="#b" x="3291.1" y="2911.2"/><use href="#b" x="3286.0" y="2923.1"/><use href="#o" x="3139.1" y="2912.9"/><use href="#b" x="2928.2" y="2917.0"/><use href="#o" x="2952.0" y="2922.1"/><use href="#b" x="3022.1" y="2918.0"/><use href="#o" x="3032.3" y="2915.3"/><use href="#o" x="3073.4" y="2918.0"/><use href="#b" x="3170.4" y="2920.0"/><use href="#b" x="3221.0" y="2922.1"/><use href="#o" x="3359.1" y="2919.0"/><use href="#b" x="2930.2" y="2933.3"/><use href="#o" x="2917.3" y="2940.1"/><use href="#o" x="2962.2" y="2941.1"/><use href="#o" x="2976.1" y="2948.6"/><use href="#b" x="3046.2" y="2931.6"/><use href="#o" x="3037.0" y="2938.4"/><use href="#o" x="3094.2" y="2930.9"/><use href="#o" x="3100.3" y="2940.1"/><use href="#o" x="3066.6" y="2938.4"/><use href="#o" x="3068.0" y="2939.8"/><use href="#o" x="3231.2" y="2939.1"/><use href="#b" x="3285.3" y="2946.2"/><use href="#b" x="3286.7" y="2947.6"/><use href="#o" x="3322.1" y="2947.9"/><use href="#o" x="3122.1" y="2952.0"/><use href="#b" x="3201.0" y="2957.1"/><use href="#b" x="3184.0" y="2958.8"/><use href="#b" x="3170.4" y="2962.2"/><use href="#b" x="3235.0" y="2957.1"/><use href="#b" x="3263.6" y="2963.2"/><use href="#b" x="3264.9" y="2964.6"/><use href="#o" x="3012.2" y="2958.8"/><use href="#o" x="3024.1" y="2962.2"/><use href="#o" x="3045.2" y="2954.4"/><use href="#o" x="3046.2" y="2955.4"/><use href="#o" x="3047.2" y="2956.4"/><use href="#o" x="3088.7" y="2958.8"/><use href="#o" x="3245.2" y="2968.0"/><use href="#b" x="3850.3" y="2538.1"/><use href="#o" x="3504.0" y="2626.2"/><use href="#o" x="3434.3" y="2680.2"/><use href="#o" x="3425.1" y="2725.8"/><use href="#o" x="3420.0" y="2728.2"/><use href="#b" x="3442.1" y="2740.1"/><use href="#o" x="3568.3" y="2774.1"/><use href="#o" x="3446.2" y="2841.1"/><use href="#o" x="3469.3" y="2867.0"/><use href="#o" x="3432.3" y="2894.2"/><use href="#o" x="3424.1" y="2916.3"/><use href="#b" x="3744.2" y="2947.9"/><use href="#b" x="3726.1" y="2946.9"/><use href="#o" x="3726.1" y="2947.3"/><use href="#o" x="3449.3" y="2961.2"/><use href="#b" x="3018.0" y="3262.2"/><use href="#b" x="3085.3" y="3271.1"/><use href="#b" x="3062.2" y="3297.9"/><use href="#o" x="3049.3" y="3320.0"/><use href="#b" x="3146.2" y="3288.1"/><use href="#o" x="3143.1" y="3315.3"/><use href="#o" x="3128.2" y="3351.0"/><use href="#b" x="3208.1" y="3344.2"/><use href="#o" x="3222.1" y="3314.3"/><use href="#b" x="3239.1" y="3279.2"/><use href="#o" x="3269.0" y="3366.0"/><use href="#o" x="3290.1" y="3292.1"/><use href="#o" x="3285.0" y="3263.9"/><use href="#b" x="3312.2" y="3250.3"/><use href="#o" x="3334.3" y="3278.2"/><use href="#o" x="3320.0" y="3219.0"/><use href="#b" x="3384.6" y="3235.0"/><use href="#o" x="3372.7" y="3209.5"/><use href="#o" x="3353.0" y="3199.3"/><use href="#o" x="3384.6" y="3206.1"/><use href="#o" x="3139.1" y="3255.4"/><use href="#o" x="3149.9" y="3259.2"/><use href="#o" x="3168.7" y="3259.2"/><use href="#o" x="3218.0" y="3269.0"/><use href="#o" x="3204.4" y="3252.0"/><use href="#o" x="3209.5" y="3253.7"/><use href="#o" x="3241.8" y="3252.0"/><use href="#o" x="2998.9" y="3203.0"/><use href="#o" x="3053.0" y="3227.2"/><use href="#o" x="3081.9" y="3212.9"/><use href="#o" x="3080.2" y="3228.2"/><use href="#b" x="3085.3" y="3238.4"/><use href="#o" x="3098.9" y="3235.0"/><use href="#o" x="3105.0" y="3238.4"/><use href="#o" x="3114.2" y="3229.9"/><use href="#o" x="2921.0" y="3089.1"/><use href="#o" x="2939.1" y="3099.0"/><use href="#o" x="2944.2" y="3131.3"/><use href="#b" x="2951.3" y="3069.0"/><use href="#o" x="2957.1" y="3085.3"/><use href="#o" x="2981.2" y="3102.0"/><use href="#o" x="2972.1" y="3117.0"/><use href="#o" x="2974.1" y="3151.0"/><use href="#o" x="2969.0" y="3173.1"/><use href="#o" x="3003.7" y="3163.6"/><use href="#o" x="3008.1" y="3165.3"/><use href="#b" x="2966.3" y="3051.3"/><use href="#o" x="2974.1" y="3051.3"/><use href="#o" x="2969.7" y="3061.5"/><use href="#b" x="2989.1" y="3058.1"/><use href="#o" x="2998.2" y="3054.7"/><use href="#o" x="2960.1" y="3025.8"/><use href="#o" x="2962.9" y="3008.1"/><use href="#o" x="2968.0" y="3008.1"/><use href="#o" x="2988.0" y="2990.1"/><use href="#o" x="2983.3" y="2971.4"/><use href="#b" x="3009.1" y="3026.5"/><use href="#o" x="3303.0" y="2982.3"/><use href="#b" x="3343.1" y="2974.8"/><use href="#o" x="3326.1" y="2995.2"/><use href="#o" x="3351.3" y="2997.9"/><use href="#o" x="3371.0" y="2995.9"/><use href="#o" x="3325.1" y="3013.9"/><use href="#o" x="3326.8" y="3023.1"/><use href="#o" x="3342.1" y="3034.3"/><use href="#o" x="3340.4" y="3068.3"/><use href="#o" x="3350.6" y="3070.0"/><use href="#o" x="3332.9" y="3083.0"/><use href="#o" x="3342.1" y="3097.3"/><use href="#o" x="3360.8" y="3100.7"/><use href="#o" x="3350.6" y="3116.0"/><use href="#o" x="3323.4" y="3117.7"/><use href="#o" x="3333.6" y="3134.7"/><use href="#o" x="3377.8" y="3143.2"/><use href="#o" x="3349.3" y="3165.3"/><use href="#o" x="3312.2" y="3160.2"/><use href="#o" x="3311.5" y="3143.2"/><use href="#o" x="3296.2" y="3141.5"/><use href="#b" x="3303.0" y="3112.6"/><use href="#o" x="3303.7" y="3113.2"/><use href="#o" x="3287.7" y="3075.1"/><use href="#o" x="3292.8" y="3087.0"/><use href="#o" x="3412.2" y="2973.1"/><use href="#o" x="3455.0" y="2996.2"/><use href="#o" x="3481.2" y="3007.1"/><use href="#o" x="3667.3" y="3009.2"/><use href="#b" x="3405.4" y="3043.2"/><use href="#o" x="3423.1" y="3076.2"/><use href="#b" x="3515.3" y="3078.2"/><use href="#b" x="3471.0" y="3099.0"/><use href="#o" x="3458.1" y="3127.9"/><use href="#o" x="3440.1" y="3149.0"/><use href="#o" x="3421.0" y="3157.8"/><use href="#o" x="3532.3" y="3184.0"/><use href="#o" x="3399.9" y="3189.1"/><use href="#o" x="3438.0" y="3197.3"/><use href="#o" x="3483.3" y="3198.3"/><use href="#o" x="3396.2" y="3206.1"/><use href="#b" x="3482.3" y="3267.3"/><use href="#b" x="3481.2" y="3282.3"/><use href="#o" x="3442.1" y="3277.2"/><use href="#o" x="3425.1" y="3295.2"/><use href="#o" x="3458.1" y="3305.1"/></g>
<path d="M2816.4 2435.3V3410.3H3900.4" class="sp"/>
<path d="M2984.1 3410.3v14.58M3156.5 3410.3v14.58M3328.9 3410.3v14.58M3501.3 3410.3v14.58M3673.7 3410.3v14.58M3846.1 3410.3v14.58M2816.4 2468.9h-14.58M2816.4 2682.7h-14.58M2816.4 2896.5h-14.58M2816.4 3110.3h-14.58M2816.4 3324.1h-14.58" class="tk"/>
<use href="#b" x="3701.5" y="2361.1"/><use href="#o" x="3701.5" y="2424.1"/>
<g class="tx">
<text x="787.6" y="112.3" font-size="45.0" text-anchor="middle" textLength="503.3" lengthAdjust="spacingAndGlyphs">phase = 3 | source = c1</text>
<text x="410.2" y="1173.1" font-size="45.0" text-anchor="middle" textLength="87.9" lengthAdjust="spacingAndGlyphs">−10</text>
<text x="663.3" y="1173.1" font-size="45.0" text-anchor="middle" textLength="26.5" lengthAdjust="spacingAndGlyphs">0</text>
<text x="916.4" y="1173.1" font-size="45.0" text-anchor="middle" textLength="53.0" lengthAdjust="spacingAndGlyphs">10</text>
<text x="1169.5" y="1173.1" font-size="45.0" text-anchor="middle" textLength="53.0" lengthAdjust="spacingAndGlyphs">20</text>
<text x="216.9" y="210.8" font-size="45.0" text-anchor="end" textLength="53.0" lengthAdjust="spacingAndGlyphs">10</text>
<text x="216.9" y="403.5" font-size="45.0" text-anchor="end" textLength="26.5" lengthAdjust="spacingAndGlyphs">5</text>
<text x="216.9" y="596.2" font-size="45.0" text-anchor="end" textLength="26.5" lengthAdjust="spacingAndGlyphs">0</text>
<text x="216.9" y="788.9" font-size="45.0" text-anchor="end" textLength="61.4" lengthAdjust="spacingAndGlyphs">−5</text>
<text x="216.9" y="981.6" font-size="45.0" text-anchor="end" textLength="87.9" lengthAdjust="spacingAndGlyphs">−10</text>
<text x="106.2" y="630.4" font-size="45.0" text-anchor="middle" textLength="80.7" lengthAdjust="spacingAndGlyphs" transform="rotate(-90 106.2 630.4)">PC2</text>
<text x="2073.0" y="112.3" font-size="45.0" text-anchor="middle" textLength="503.3" lengthAdjust="spacingAndGlyphs">phase = 3 | source = c2</text>
<text x="1559.2" y="1173.1" font-size="45.0" text-anchor="middle" textLength="87.9" lengthAdjust="spacingAndGlyphs">−10</text>
<text x="1822.3" y="1173.1" font-size="45.0" text-anchor="middle" textLength="26.5" lengthAdjust="spacingAndGlyphs">0</text>
<text x="2085.4" y="1173.1" font-size="45.0" text-anchor="middle" textLength="53.0" lengthAdjust="spacingAndGlyphs">10</text>
<text x="2348.5" y="1173.1" font-size="45.0" text-anchor="middle" textLength="53.0" lengthAdjust="spacingAndGlyphs">20</text>
<text x="2611.6" y="1173.1" font-size="45.0" text-anchor="middle" textLength="53.0" lengthAdjust="spacingAndGlyphs">30</text>
<text x="1502.3" y="155.7" font-size="45.0" text-anchor="end" textLength="92.8" lengthAdjust="spacingAndGlyphs">10.0</text>
<text x="1502.3" y="265.5" font-size="45.0" text-anchor="end" textLength="66.3" lengthAdjust="spacingAndGlyphs">7.5</text>
<text x="1502.3" y="375.3" font-size="45.0" text-anchor="end" textLength="66.3" lengthAdjust="spacingAndGlyphs">5.0</text>
<text x="1502.3" y="485.1" font-size="45.0" text-anchor="end" textLength="66.3" lengthAdjust="spacingAndGlyphs">2.5</text>
<text x="1502.3" y="594.9" font-size="45.0" text-anchor="end" textLength="66.3" lengthAdjust="spacingAndGlyphs">0.0</text>
<text x="1502.3" y="704.7" font-size="45.0" text-anchor="end" textLength="101.2" lengthAdjust="spacingAndGlyphs">−2.5</text>
<text x="1502.3" y="814.5" font-size="45.0" text-anchor="end" textLength="101.2" lengthAdjust="spacingAndGlyphs">−5.0</text>
<text x="1502.3" y="924.3" font-size="45.0" text-anchor="end" textLength="101.2" lengthAdjust="spacingAndGlyphs">−7.5</text>
<text x="1502.3" y="1034.1" font-size="45.0" text-anchor="end" textLength="127.7" lengthAdjust="spacingAndGlyphs">−10.0</text>
<text x="3358.4" y="112.3" font-size="45.0" text-anchor="middle" textLength="503.3" lengthAdjust="spacingAndGlyphs">phase = 3 | source = c3</text>
<text x="2992.1" y="1173.1" font-size="45.0" text-anchor="middle" textLength="87.9" lengthAdjust="spacingAndGlyphs">−10</text>
<text x="3199.9" y="1173.1" font-size="45.0" text-anchor="middle" textLength="26.5" lengthAdjust="spacingAndGlyphs">0</text>
<text x="3407.7" y="1173.1" font-size="45.0" text-anchor="middle" textLength="53.0" lengthAdjust="spacingAndGlyphs">10</text>
<text x="3615.5" y="1173.1" font-size="45.0" text-anchor="middle" textLength="53.0" lengthAdjust="spacingAndGlyphs">20</text>
<text x="3823.3" y="1173.1" font-size="45.0" text-anchor="middle" textLength="53.0" lengthAdjust="spacingAndGlyphs">30</text>
<text x="2787.7" y="264.9" font-size="45.0" text-anchor="end" textLength="53.0" lengthAdjust="spacingAndGlyphs">25</text>
<text x="2787.7" y="388.9" font-size="45.0" text-anchor="end" textLength="53.0" lengthAdjust="spacingAndGlyphs">20</text>
<text x="2787.7" y="512.8" font-size="45.0" text-anchor="end" textLength="53.0" lengthAdjust="spacingAndGlyphs">15</text>
<text x="2787.7" y="636.8" font-size="45.0" text-anchor="end" textLength="53.0" lengthAdjust="spacingAndGlyphs">10</text>
<text x="2787.7" y="760.7" font-size="45.0" text-anchor="end" textLength="26.5" lengthAdjust="spacingAndGlyphs">5</text>
<text x="2787.7" y="884.7" font-size="45.0" text-anchor="end" textLength="26.5" lengthAdjust="spacingAndGlyphs">0</text>
<text x="2787.7" y="1008.6" font-size="45.0" text-anchor="end" textLength="61.4" lengthAdjust="spacingAndGlyphs">−5</text>
<text x="2073.0" y="1261.3" font-size="45.0" text-anchor="middle" textLength="503.3" lengthAdjust="spacingAndGlyphs">phase = 2 | source = c2</text>
<text x="1557.1" y="2322.1" font-size="45.0" text-anchor="middle" textLength="87.9" lengthAdjust="spacingAndGlyphs">−10</text>
<text x="1773.1" y="2322.1" font-size="45.0" text-anchor="middle" textLength="61.4" lengthAdjust="spacingAndGlyphs">−5</text>
<text x="1989.1" y="2322.1" font-size="45.0" text-anchor="middle" textLength="26.5" lengthAdjust="spacingAndGlyphs">0</text>
<text x="2205.1" y="2322.1" font-size="45.0" text-anchor="middle" textLength="26.5" lengthAdjust="spacingAndGlyphs">5</text>
<text x="2421.1" y="2322.1" font-size="45.0" text-anchor="middle" textLength="53.0" lengthAdjust="spacingAndGlyphs">10</text>
<text x="1502.3" y="1365.4" font-size="45.0" text-anchor="end" textLength="26.5" lengthAdjust="spacingAndGlyphs">8</text>
<text x="1502.3" y="1488.7" font-size="45.0" text-anchor="end" textLength="26.5" lengthAdjust="spacingAndGlyphs">6</text>
<text x="1502.3" y="1612.0" font-size="45.0" text-anchor="end" textLength="26.5" lengthAdjust="spacingAndGlyphs">4</text>
<text x="1502.3" y="1735.3" font-size="45.0" text-anchor="end" textLength="26.5" lengthAdjust="spacingAndGlyphs">2</text>
<text x="1502.3" y="1858.6" font-size="45.0" text-anchor="end" textLength="26.5" lengthAdjust="spacingAndGlyphs">0</text>
<text x="1502.3" y="1981.9" font-size="45.0" text-anchor="end" textLength="61.4" lengthAdjust="spacingAndGlyphs">−2</text>
<text x="1502.3" y="2105.2" font-size="45.0" text-anchor="end" textLength="61.4" lengthAdjust="spacingAndGlyphs">−4</text>
<text x="1502.3" y="2228.5" font-size="45.0" text-anchor="end" textLength="61.4" lengthAdjust="spacingAndGlyphs">−6</text>
<text x="3358.4" y="1261.3" font-size="45.0" text-anchor="middle" textLength="503.3" lengthAdjust="spacingAndGlyphs">phase = 2 | source = c3</text>
<text x="2830.2" y="2322.1" font-size="45.0" text-anchor="middle" textLength="87.9" lengthAdjust="spacingAndGlyphs">−15</text>
<text x="2978.2" y="2322.1" font-size="45.0" text-anchor="middle" textLength="87.9" lengthAdjust="spacingAndGlyphs">−10</text>
<text x="3126.2" y="2322.1" font-size="45.0" text-anchor="middle" textLength="61.4" lengthAdjust="spacingAndGlyphs">−5</text>
<text x="3274.3" y="2322.1" font-size="45.0" text-anchor="middle" textLength="26.5" lengthAdjust="spacingAndGlyphs">0</text>
<text x="3422.4" y="2322.1" font-size="45.0" text-anchor="middle" textLength="26.5" lengthAdjust="spacingAndGlyphs">5</text>
<text x="3570.4" y="2322.1" font-size="45.0" text-anchor="middle" textLength="53.0" lengthAdjust="spacingAndGlyphs">10</text>
<text x="3718.5" y="2322.1" font-size="45.0" text-anchor="middle" textLength="53.0" lengthAdjust="spacingAndGlyphs">15</text>
<text x="3866.5" y="2322.1" font-size="45.0" text-anchor="middle" textLength="53.0" lengthAdjust="spacingAndGlyphs">20</text>
<text x="2787.7" y="1402.6" font-size="45.0" text-anchor="end" textLength="53.0" lengthAdjust="spacingAndGlyphs">20</text>
<text x="2787.7" y="1550.4" font-size="45.0" text-anchor="end" textLength="53.0" lengthAdjust="spacingAndGlyphs">15</text>
<text x="2787.7" y="1698.2" font-size="45.0" text-anchor="end" textLength="53.0" lengthAdjust="spacingAndGlyphs">10</text>
<text x="2787.7" y="1846.0" font-size="45.0" text-anchor="end" textLength="26.5" lengthAdjust="spacingAndGlyphs">5</text>
<text x="2787.7" y="1993.8" font-size="45.0" text-anchor="end" textLength="26.5" lengthAdjust="spacingAndGlyphs">0</text>
<text x="2787.7" y="2141.6" font-size="45.0" text-anchor="end" textLength="61.4" lengthAdjust="spacingAndGlyphs">−5</text>
<text x="787.6" y="3559.3" font-size="45.0" text-anchor="middle" textLength="503.3" lengthAdjust="spacingAndGlyphs">phase = 0 | source = c1</text>
<text x="265.2" y="4620.1" font-size="45.0" text-anchor="middle" textLength="87.9" lengthAdjust="spacingAndGlyphs">−10</text>
<text x="455.2" y="4620.1" font-size="45.0" text-anchor="middle" textLength="61.4" lengthAdjust="spacingAndGlyphs">−5</text>
<text x="645.3" y="4620.1" font-size="45.0" text-anchor="middle" textLength="26.5" lengthAdjust="spacingAndGlyphs">0</text>
<text x="835.3" y="4620.1" font-size="45.0" text-anchor="middle" textLength="26.5" lengthAdjust="spacingAndGlyphs">5</text>
<text x="1025.4" y="4620.1" font-size="45.0" text-anchor="middle" textLength="53.0" lengthAdjust="spacingAndGlyphs">10</text>
<text x="1215.5" y="4620.1" font-size="45.0" text-anchor="middle" textLength="53.0" lengthAdjust="spacingAndGlyphs">15</text>
<text x="216.9" y="3615.6" font-size="45.0" text-anchor="end" textLength="66.3" lengthAdjust="spacingAndGlyphs">7.5</text>
<text x="216.9" y="3744.9" font-size="45.0" text-anchor="end" textLength="66.3" lengthAdjust="spacingAndGlyphs">5.0</text>
<text x="216.9" y="3874.1" font-size="45.0" text-anchor="end" textLength="66.3" lengthAdjust="spacingAndGlyphs">2.5</text>
<text x="216.9" y="4003.4" font-size="45.0" text-anchor="end" textLength="66.3" lengthAdjust="spacingAndGlyphs">0.0</text>
<text x="216.9" y="4132.7" font-size="45.0" text-anchor="end" textLength="101.2" lengthAdjust="spacingAndGlyphs">−2.5</text>
<text x="216.9" y="4261.9" font-size="45.0" text-anchor="end" textLength="101.2" lengthAdjust="spacingAndGlyphs">−5.0</text>
<text x="216.9" y="4391.2" font-size="45.0" text-anchor="end" textLength="101.2" lengthAdjust="spacingAndGlyphs">−7.5</text>
<text x="216.9" y="4520.4" font-size="45.0" text-anchor="end" textLength="127.7" lengthAdjust="spacingAndGlyphs">−10.0</text>
<text x="67.2" y="4077.4" font-size="45.0" text-anchor="middle" textLength="80.7" lengthAdjust="spacingAndGlyphs" transform="rotate(-90 67.2 4077.4)">PC2</text>
<text x="786.6" y="4681.0" font-size="45.0" text-anchor="middle" textLength="80.7" lengthAdjust="spacingAndGlyphs">PC1</text>
<text x="2073.0" y="3559.3" font-size="45.0" text-anchor="middle" textLength="503.3" lengthAdjust="spacingAndGlyphs">phase = 0 | source = c2</text>
<text x="1752.3" y="4620.1" font-size="45.0" text-anchor="middle" textLength="26.5" lengthAdjust="spacingAndGlyphs">0</text>
<text x="2000.7" y="4620.1" font-size="45.0" text-anchor="middle" textLength="26.5" lengthAdjust="spacingAndGlyphs">5</text>
<text x="2249.1" y="4620.1" font-size="45.0" text-anchor="middle" textLength="53.0" lengthAdjust="spacingAndGlyphs">10</text>
<text x="2497.5" y="4620.1" font-size="45.0" text-anchor="middle" textLength="53.0" lengthAdjust="spacingAndGlyphs">15</text>
<text x="1502.3" y="3717.5" font-size="45.0" text-anchor="end" textLength="26.5" lengthAdjust="spacingAndGlyphs">8</text>
<text x="1502.3" y="3841.3" font-size="45.0" text-anchor="end" textLength="26.5" lengthAdjust="spacingAndGlyphs">6</text>
<text x="1502.3" y="3965.1" font-size="45.0" text-anchor="end" textLength="26.5" lengthAdjust="spacingAndGlyphs">4</text>
<text x="1502.3" y="4088.9" font-size="45.0" text-anchor="end" textLength="26.5" lengthAdjust="spacingAndGlyphs">2</text>
<text x="1502.3" y="4212.7" font-size="45.0" text-anchor="end" textLength="26.5" lengthAdjust="spacingAndGlyphs">0</text>
<text x="1502.3" y="4336.5" font-size="45.0" text-anchor="end" textLength="61.4" lengthAdjust="spacingAndGlyphs">−2</text>
<text x="1502.3" y="4460.3" font-size="45.0" text-anchor="end" textLength="61.4" lengthAdjust="spacingAndGlyphs">−4</text>
<text x="2072.0" y="4681.0" font-size="45.0" text-anchor="middle" textLength="80.7" lengthAdjust="spacingAndGlyphs">PC1</text>
<text x="3358.4" y="3559.3" font-size="45.0" text-anchor="middle" textLength="503.3" lengthAdjust="spacingAndGlyphs">phase = 0 | source = c3</text>
<text x="2816.4" y="4620.1" font-size="45.0" text-anchor="middle" textLength="66.3" lengthAdjust="spacingAndGlyphs">0.0</text>
<text x="3033.2" y="4620.1" font-size="45.0" text-anchor="middle" textLength="66.3" lengthAdjust="spacingAndGlyphs">0.2</text>
<text x="3250.0" y="4620.1" font-size="45.0" text-anchor="middle" textLength="66.3" lengthAdjust="spacingAndGlyphs">0.4</text>
<text x="3466.8" y="4620.1" font-size="45.0" text-anchor="middle" textLength="66.3" lengthAdjust="spacingAndGlyphs">0.6</text>
<text x="3683.6" y="4620.1" font-size="45.0" text-anchor="middle" textLength="66.3" lengthAdjust="spacingAndGlyphs">0.8</text>
<text x="3900.4" y="4620.1" font-size="45.0" text-anchor="middle" textLength="66.3" lengthAdjust="spacingAndGlyphs">1.0</text>
<text x="2787.7" y="3600.6" font-size="45.0" text-anchor="end" textLength="66.3" lengthAdjust="spacingAndGlyphs">1.0</text>
<text x="2787.7" y="3795.6" font-size="45.0" text-anchor="end" textLength="66.3" lengthAdjust="spacingAndGlyphs">0.8</text>
<text x="2787.7" y="3990.6" font-size="45.0" text-anchor="end" textLength="66.3" lengthAdjust="spacingAndGlyphs">0.6</text>
<text x="2787.7" y="4185.6" font-size="45.0" text-anchor="end" textLength="66.3" lengthAdjust="spacingAndGlyphs">0.4</text>
<text x="2787.7" y="4380.6" font-size="45.0" text-anchor="end" textLength="66.3" lengthAdjust="spacingAndGlyphs">0.2</text>
<text x="2787.7" y="4575.6" font-size="45.0" text-anchor="end" textLength="66.3" lengthAdjust="spacingAndGlyphs">0.0</text>
<text x="3357.4" y="4681.0" font-size="45.0" text-anchor="middle" textLength="80.7" lengthAdjust="spacingAndGlyphs">PC1</text>
<text x="787.6" y="1261.3" font-size="45.0" text-anchor="middle" textLength="503.3" lengthAdjust="spacingAndGlyphs">phase = 2 | source = c1</text>
<text x="374.7" y="2322.1" font-size="45.0" text-anchor="middle" textLength="87.9" lengthAdjust="spacingAndGlyphs">−10</text>
<text x="629.0" y="2322.1" font-size="45.0" text-anchor="middle" textLength="26.5" lengthAdjust="spacingAndGlyphs">0</text>
<text x="883.3" y="2322.1" font-size="45.0" text-anchor="middle" textLength="53.0" lengthAdjust="spacingAndGlyphs">10</text>
<text x="1137.6" y="2322.1" font-size="45.0" text-anchor="middle" textLength="53.0" lengthAdjust="spacingAndGlyphs">20</text>
<text x="216.9" y="1344.5" font-size="45.0" text-anchor="end" textLength="53.0" lengthAdjust="spacingAndGlyphs">15</text>
<text x="216.9" y="1509.7" font-size="45.0" text-anchor="end" textLength="53.0" lengthAdjust="spacingAndGlyphs">10</text>
<text x="216.9" y="1674.9" font-size="45.0" text-anchor="end" textLength="26.5" lengthAdjust="spacingAndGlyphs">5</text>
<text x="216.9" y="1840.1" font-size="45.0" text-anchor="end" textLength="26.5" lengthAdjust="spacingAndGlyphs">0</text>
<text x="216.9" y="2005.3" font-size="45.0" text-anchor="end" textLength="61.4" lengthAdjust="spacingAndGlyphs">−5</text>
<text x="216.9" y="2170.5" font-size="45.0" text-anchor="end" textLength="87.9" lengthAdjust="spacingAndGlyphs">−10</text>
<text x="106.2" y="1779.4" font-size="45.0" text-anchor="middle" textLength="80.7" lengthAdjust="spacingAndGlyphs" transform="rotate(-90 106.2 1779.4)">PC2</text>
<text x="787.6" y="2410.3" font-size="45.0" text-anchor="middle" textLength="503.3" lengthAdjust="spacingAndGlyphs">phase = 1 | source = c1</text>
<text x="354.1" y="3471.1" font-size="45.0" text-anchor="middle" textLength="87.9" lengthAdjust="spacingAndGlyphs">−10</text>
<text x="505.8" y="3471.1" font-size="45.0" text-anchor="middle" textLength="61.4" lengthAdjust="spacingAndGlyphs">−5</text>
<text x="657.5" y="3471.1" font-size="45.0" text-anchor="middle" textLength="26.5" lengthAdjust="spacingAndGlyphs">0</text>
<text x="809.2" y="3471.1" font-size="45.0" text-anchor="middle" textLength="26.5" lengthAdjust="spacingAndGlyphs">5</text>
<text x="960.9" y="3471.1" font-size="45.0" text-anchor="middle" textLength="53.0" lengthAdjust="spacingAndGlyphs">10</text>
<text x="1112.6" y="3471.1" font-size="45.0" text-anchor="middle" textLength="53.0" lengthAdjust="spacingAndGlyphs">15</text>
<text x="1264.3" y="3471.1" font-size="45.0" text-anchor="middle" textLength="53.0" lengthAdjust="spacingAndGlyphs">20</text>
<text x="216.9" y="2465.6" font-size="45.0" text-anchor="end" textLength="53.0" lengthAdjust="spacingAndGlyphs">15</text>
<text x="216.9" y="2633.0" font-size="45.0" text-anchor="end" textLength="53.0" lengthAdjust="spacingAndGlyphs">10</text>
<text x="216.9" y="2800.4" font-size="45.0" text-anchor="end" textLength="26.5" lengthAdjust="spacingAndGlyphs">5</text>
<text x="216.9" y="2967.8" font-size="45.0" text-anchor="end" textLength="26.5" lengthAdjust="spacingAndGlyphs">0</text>
<text x="216.9" y="3135.2" font-size="45.0" text-anchor="end" textLength="61.4" lengthAdjust="spacingAndGlyphs">−5</text>
<text x="216.9" y="3302.6" font-size="45.0" text-anchor="end" textLength="87.9" lengthAdjust="spacingAndGlyphs">−10</text>
<text x="106.2" y="2928.4" font-size="45.0" text-anchor="middle" textLength="80.7" lengthAdjust="spacingAndGlyphs" transform="rotate(-90 106.2 2928.4)">PC2</text>
<text x="2073.0" y="2410.3" font-size="45.0" text-anchor="middle" textLength="503.3" lengthAdjust="spacingAndGlyphs">phase = 1 | source = c2</text>
<text x="1636.1" y="3471.1" font-size="45.0" text-anchor="middle" textLength="87.9" lengthAdjust="spacingAndGlyphs">−10</text>
<text x="1890.1" y="3471.1" font-size="45.0" text-anchor="middle" textLength="26.5" lengthAdjust="spacingAndGlyphs">0</text>
<text x="2144.1" y="3471.1" font-size="45.0" text-anchor="middle" textLength="53.0" lengthAdjust="spacingAndGlyphs">10</text>
<text x="2398.1" y="3471.1" font-size="45.0" text-anchor="middle" textLength="53.0" lengthAdjust="spacingAndGlyphs">20</text>
<text x="1502.3" y="2525.5" font-size="45.0" text-anchor="end" textLength="53.0" lengthAdjust="spacingAndGlyphs">10</text>
<text x="1502.3" y="2717.2" font-size="45.0" text-anchor="end" textLength="26.5" lengthAdjust="spacingAndGlyphs">5</text>
<text x="1502.3" y="2909.0" font-size="45.0" text-anchor="end" textLength="26.5" lengthAdjust="spacingAndGlyphs">0</text>
<text x="1502.3" y="3100.8" font-size="45.0" text-anchor="end" textLength="61.4" lengthAdjust="spacingAndGlyphs">−5</text>
<text x="1502.3" y="3292.5" font-size="45.0" text-anchor="end" textLength="87.9" lengthAdjust="spacingAndGlyphs">−10</text>
<text x="3358.4" y="2410.3" font-size="45.0" text-anchor="middle" textLength="503.3" lengthAdjust="spacingAndGlyphs">phase = 1 | source = c3</text>
<text x="2984.1" y="3471.1" font-size="45.0" text-anchor="middle" textLength="87.9" lengthAdjust="spacingAndGlyphs">−10</text>
<text x="3156.5" y="3471.1" font-size="45.0" text-anchor="middle" textLength="26.5" lengthAdjust="spacingAndGlyphs">0</text>
<text x="3328.9" y="3471.1" font-size="45.0" text-anchor="middle" textLength="53.0" lengthAdjust="spacingAndGlyphs">10</text>
<text x="3501.3" y="3471.1" font-size="45.0" text-anchor="middle" textLength="53.0" lengthAdjust="spacingAndGlyphs">20</text>
<text x="3673.7" y="3471.1" font-size="45.0" text-anchor="middle" textLength="53.0" lengthAdjust="spacingAndGlyphs">30</text>
<text x="3846.1" y="3471.1" font-size="45.0" text-anchor="middle" textLength="53.0" lengthAdjust="spacingAndGlyphs">40</text>
<text x="2787.7" y="2485.2" font-size="45.0" text-anchor="end" textLength="53.0" lengthAdjust="spacingAndGlyphs">30</text>
<text x="2787.7" y="2699.0" font-size="45.0" text-anchor="end" textLength="53.0" lengthAdjust="spacingAndGlyphs">20</text>
<text x="2787.7" y="2912.8" font-size="45.0" text-anchor="end" textLength="53.0" lengthAdjust="spacingAndGlyphs">10</text>
<text x="2787.7" y="3126.6" font-size="45.0" text-anchor="end" textLength="26.5" lengthAdjust="spacingAndGlyphs">0</text>
<text x="2787.7" y="3340.4" font-size="45.0" text-anchor="end" textLength="87.9" lengthAdjust="spacingAndGlyphs">−10</text>
<text x="1982.0" y="69.0" font-size="54.0" text-anchor="middle" textLength="1102.5" lengthAdjust="spacingAndGlyphs">PCA by closed_relevance, faceted by source</text>
<text x="3770.3" y="2307.2" font-size="45.0" text-anchor="middle" textLength="358.8" lengthAdjust="spacingAndGlyphs">closed_relevance</text>
<text x="3775.5" y="2371.8" font-size="45.0" text-anchor="start" textLength="104.6" lengthAdjust="spacingAndGlyphs">False</text>
<text x="3776.8" y="2434.8" font-size="45.0" text-anchor="start" textLength="88.5" lengthAdjust="spacingAndGlyphs">True</text>
</g>
</svg>
</body></html>
